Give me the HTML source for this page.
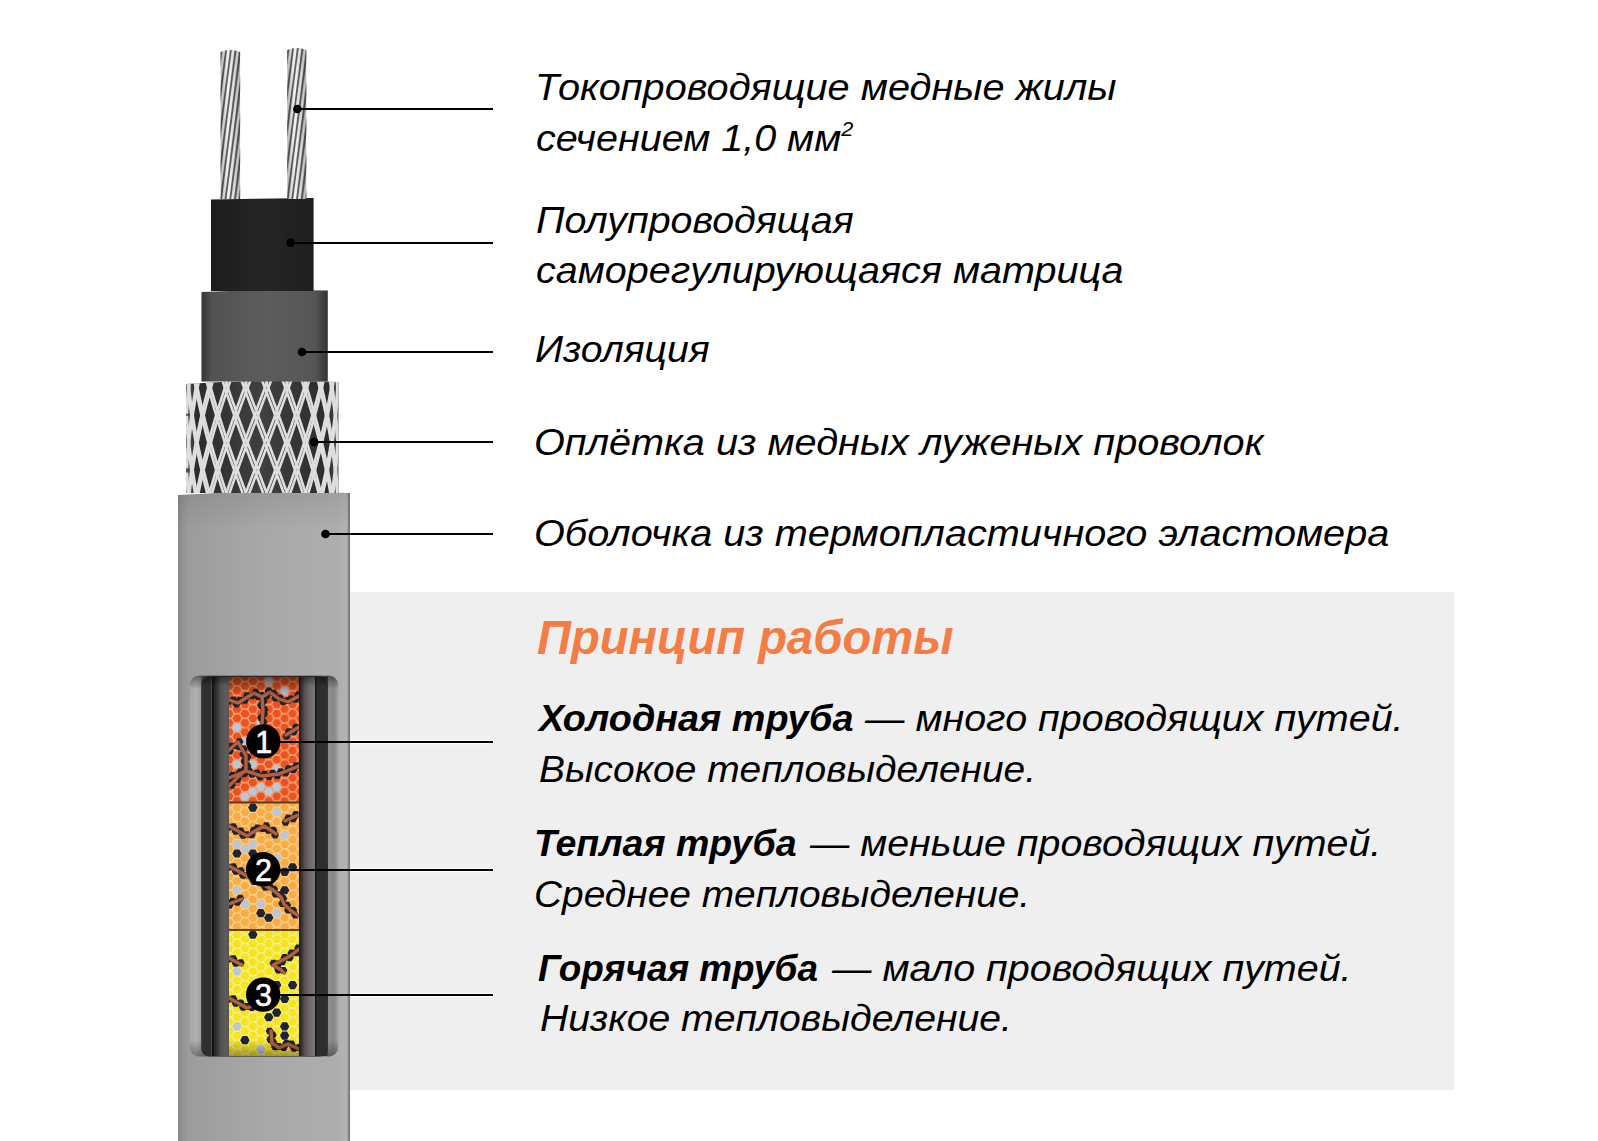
<!DOCTYPE html>
<html><head><meta charset="utf-8"><title>cable</title>
<style>
html,body{margin:0;padding:0;background:#fff}
body{width:1598px;height:1141px;overflow:hidden;position:relative}
.panel{position:absolute;left:350px;top:592px;width:1104px;height:498px;background:#efefef}
.t{position:absolute;font-family:"Liberation Sans",sans-serif;font-style:italic;line-height:1.117;white-space:nowrap;color:#000;transform-origin:0 0}
.t b{font-weight:bold}
.h{font-weight:bold;color:#f47c45}
.b{font-weight:bold}
.t sup{font-size:55%;vertical-align:0;position:relative;top:-0.70em}
</style></head><body>
<div class="panel"></div>
<svg width="1598" height="1141" viewBox="0 0 1598 1141" style="position:absolute;left:0;top:0">
<defs>
<linearGradient id="wireg" x1="0" y1="0" x2="1" y2="0"><stop offset="0" stop-color="#b8b8b8"/><stop offset=".35" stop-color="#f2f2f2"/><stop offset=".7" stop-color="#dcdcdc"/><stop offset="1" stop-color="#a8a8a8"/></linearGradient>
<linearGradient id="wireshade" x1="0" y1="0" x2="1" y2="0"><stop offset="0" stop-color="#000" stop-opacity=".15"/><stop offset=".4" stop-color="#000" stop-opacity="0"/><stop offset="1" stop-color="#000" stop-opacity=".12"/></linearGradient>
<linearGradient id="insg" x1="0" y1="0" x2="1" y2="0"><stop offset="0" stop-color="#343434"/><stop offset=".08" stop-color="#525252"/><stop offset=".5" stop-color="#5c5c5c"/><stop offset=".9" stop-color="#565656"/><stop offset="1" stop-color="#333"/></linearGradient>
<linearGradient id="matg" x1="0" y1="0" x2="1" y2="0"><stop offset="0" stop-color="#1c1c1c"/><stop offset=".5" stop-color="#252525"/><stop offset="1" stop-color="#1f1f1f"/></linearGradient>
<linearGradient id="jackg" x1="0" y1="0" x2="1" y2="0"><stop offset="0" stop-color="#888"/><stop offset=".03" stop-color="#949494"/><stop offset=".065" stop-color="#9c9c9c"/><stop offset=".5" stop-color="#a8a8a8"/><stop offset=".93" stop-color="#aeaeae"/><stop offset=".982" stop-color="#b4b4b4"/><stop offset=".994" stop-color="#7a7a7a"/><stop offset="1" stop-color="#777"/></linearGradient>
<linearGradient id="braidbg" x1="0" y1="0" x2="1" y2="0"><stop offset="0" stop-color="#555"/><stop offset=".07" stop-color="#2c2c2c"/><stop offset=".5" stop-color="#404040"/><stop offset=".93" stop-color="#2c2c2c"/><stop offset="1" stop-color="#555"/></linearGradient>
<clipPath id="braidclip"><path d="M186,384 Q262,379 338.5,382 L338.5,493 L186,493 Z"/></clipPath>
<linearGradient id="recessg" x1="0" y1="0" x2="0" y2="1"><stop offset="0" stop-color="#6e6e6e"/><stop offset=".06" stop-color="#a2a2a2"/><stop offset=".9" stop-color="#acacac"/><stop offset="1" stop-color="#8a8a8a"/></linearGradient>
<linearGradient id="chL" x1="0" y1="0" x2="1" y2="0"><stop offset="0" stop-color="#151515"/><stop offset=".2" stop-color="#1c1c1c"/><stop offset=".6" stop-color="#5a5858"/><stop offset="1" stop-color="#484848"/></linearGradient>
<linearGradient id="chR" x1="0" y1="0" x2="1" y2="0"><stop offset="0" stop-color="#161616"/><stop offset=".3" stop-color="#5e5c5c"/><stop offset=".7" stop-color="#666"/><stop offset="1" stop-color="#4a4a4a"/></linearGradient>
<linearGradient id="wallL" x1="0" y1="0" x2="1" y2="0"><stop offset="0" stop-color="#b8b8b8"/><stop offset="1" stop-color="#8a8a8a"/></linearGradient>
<linearGradient id="wallR" x1="0" y1="0" x2="1" y2="0"><stop offset="0" stop-color="#6a6a6a"/><stop offset="1" stop-color="#a6a6a6"/></linearGradient>
</defs>
<!-- outer jacket -->
<path d="M178,495 Q264,490 350,493 L350,1141 L178,1141 Z" fill="url(#jackg)"/>
<linearGradient id="jtop" x1="0" y1="0" x2="0" y2="1"><stop offset="0" stop-color="#000" stop-opacity=".09"/><stop offset="1" stop-color="#000" stop-opacity="0"/></linearGradient>
<path d="M178,495 Q264,490 350,493 L350,530 L178,530 Z" fill="url(#jtop)"/>
<!-- braid -->
<g clip-path="url(#braidclip)">
<rect x="186" y="378" width="153" height="116" fill="url(#braidbg)"/>
<g stroke="#dedede" stroke-width="2.6" fill="none"><polyline points="261.11,378 261.91,380.1 262.71,382.2 263.5,384.3 264.3,386.4 265.1,388.5 265.9,390.6 266.69,392.7 267.49,394.8 268.29,396.9 269.08,399 269.88,401.1 270.67,403.2 271.46,405.3 272.25,407.4 273.04,409.5 273.83,411.6 274.62,413.7 275.41,415.8 276.19,417.9 276.98,420 277.76,422.1 278.54,424.2 279.32,426.3 280.09,428.4 280.87,430.5 281.64,432.6 282.41,434.7 283.18,436.8 283.95,438.9 284.71,441 285.47,443.1 286.23,445.2 286.99,447.3 287.74,449.4 288.49,451.5 289.24,453.6 289.98,455.7 290.73,457.8 291.47,459.9 292.2,462 292.93,464.1 293.66,466.2 294.39,468.3 295.11,470.4 295.83,472.5 296.54,474.6 297.25,476.7 297.96,478.8 298.66,480.9 299.36,483 300.06,485.1 300.75,487.2 301.43,489.3 302.12,491.4 302.8,493.5 303.47,495.6 304.14,497.7 304.8,499.8 305.46,501.9"/><polyline points="264.62,378 265.41,380.1 266.21,382.2 267.01,384.3 267.8,386.4 268.6,388.5 269.4,390.6 270.19,392.7 270.98,394.8 271.77,396.9 272.57,399 273.36,401.1 274.14,403.2 274.93,405.3 275.72,407.4 276.5,409.5 277.29,411.6 278.07,413.7 278.85,415.8 279.63,417.9 280.4,420 281.18,422.1 281.95,424.2 282.72,426.3 283.48,428.4 284.25,430.5 285.01,432.6 285.77,434.7 286.53,436.8 287.29,438.9 288.04,441 288.79,443.1 289.53,445.2 290.28,447.3 291.02,449.4 291.76,451.5 292.49,453.6 293.22,455.7 293.95,457.8 294.67,459.9 295.39,462 296.11,464.1 296.82,466.2 297.53,468.3 298.24,470.4 298.94,472.5 299.64,474.6 300.33,476.7 301.02,478.8 301.71,480.9 302.39,483 303.06,485.1 303.73,487.2 304.4,489.3 305.06,491.4 305.72,493.5 306.38,495.6 307.02,497.7 307.67,499.8 308.31,501.9"/><polyline points="281.72,378 282.49,380.1 283.26,382.2 284.03,384.3 284.79,386.4 285.55,388.5 286.31,390.6 287.07,392.7 287.82,394.8 288.57,396.9 289.32,399 290.06,401.1 290.8,403.2 291.54,405.3 292.28,407.4 293.01,409.5 293.74,411.6 294.46,413.7 295.18,415.8 295.9,417.9 296.62,420 297.33,422.1 298.03,424.2 298.74,426.3 299.43,428.4 300.13,430.5 300.82,432.6 301.51,434.7 302.19,436.8 302.86,438.9 303.54,441 304.21,443.1 304.87,445.2 305.53,447.3 306.18,449.4 306.83,451.5 307.48,453.6 308.12,455.7 308.75,457.8 309.38,459.9 310.01,462 310.63,464.1 311.24,466.2 311.85,468.3 312.45,470.4 313.05,472.5 313.64,474.6 314.23,476.7 314.81,478.8 315.39,480.9 315.96,483 316.52,485.1 317.08,487.2 317.63,489.3 318.17,491.4 318.71,493.5 319.25,495.6 319.77,497.7 320.3,499.8 320.81,501.9"/><polyline points="285.09,378 285.85,380.1 286.61,382.2 287.36,384.3 288.12,386.4 288.87,388.5 289.61,390.6 290.35,392.7 291.1,394.8 291.83,396.9 292.57,399 293.3,401.1 294.02,403.2 294.75,405.3 295.47,407.4 296.18,409.5 296.9,411.6 297.61,413.7 298.31,415.8 299.01,417.9 299.71,420 300.4,422.1 301.09,424.2 301.78,426.3 302.46,428.4 303.13,430.5 303.8,432.6 304.47,434.7 305.13,436.8 305.79,438.9 306.44,441 307.09,443.1 307.73,445.2 308.37,447.3 309,449.4 309.63,451.5 310.25,453.6 310.87,455.7 311.48,457.8 312.09,459.9 312.69,462 313.29,464.1 313.88,466.2 314.46,468.3 315.04,470.4 315.61,472.5 316.18,474.6 316.74,476.7 317.3,478.8 317.85,480.9 318.39,483 318.93,485.1 319.46,487.2 319.98,489.3 320.5,491.4 321.01,493.5 321.52,495.6 322.02,497.7 322.51,499.8 322.99,501.9"/><polyline points="300.89,378 301.58,380.1 302.26,382.2 302.93,384.3 303.61,386.4 304.28,388.5 304.94,390.6 305.6,392.7 306.25,394.8 306.9,396.9 307.55,399 308.18,401.1 308.82,403.2 309.45,405.3 310.07,407.4 310.69,409.5 311.31,411.6 311.91,413.7 312.52,415.8 313.11,417.9 313.71,420 314.29,422.1 314.87,424.2 315.45,426.3 316.02,428.4 316.58,430.5 317.13,432.6 317.69,434.7 318.23,436.8 318.77,438.9 319.3,441 319.83,443.1 320.35,445.2 320.86,447.3 321.37,449.4 321.87,451.5 322.36,453.6 322.85,455.7 323.33,457.8 323.81,459.9 324.27,462 324.74,464.1 325.19,466.2 325.64,468.3 326.08,470.4 326.51,472.5 326.94,474.6 327.35,476.7 327.77,478.8 328.17,480.9 328.57,483 328.96,485.1 329.34,487.2 329.72,489.3 330.08,491.4 330.45,493.5 330.8,495.6 331.14,497.7 331.48,499.8 331.81,501.9"/><polyline points="303.87,378 304.54,380.1 305.2,382.2 305.86,384.3 306.51,386.4 307.16,388.5 307.8,390.6 308.44,392.7 309.07,394.8 309.7,396.9 310.32,399 310.93,401.1 311.55,403.2 312.15,405.3 312.75,407.4 313.35,409.5 313.94,411.6 314.52,413.7 315.1,415.8 315.67,417.9 316.24,420 316.8,422.1 317.35,424.2 317.9,426.3 318.44,428.4 318.98,430.5 319.51,432.6 320.03,434.7 320.55,436.8 321.06,438.9 321.57,441 322.07,443.1 322.56,445.2 323.04,447.3 323.52,449.4 323.99,451.5 324.46,453.6 324.92,455.7 325.37,457.8 325.81,459.9 326.25,462 326.68,464.1 327.1,466.2 327.52,468.3 327.93,470.4 328.33,472.5 328.72,474.6 329.11,476.7 329.49,478.8 329.86,480.9 330.23,483 330.59,485.1 330.94,487.2 331.28,489.3 331.61,491.4 331.94,493.5 332.26,495.6 332.57,497.7 332.88,499.8 333.18,501.9"/><polyline points="317.19,378 317.74,380.1 318.29,382.2 318.82,384.3 319.36,386.4 319.88,388.5 320.4,390.6 320.91,392.7 321.42,394.8 321.92,396.9 322.41,399 322.9,401.1 323.38,403.2 323.86,405.3 324.32,407.4 324.78,409.5 325.24,411.6 325.68,413.7 326.12,415.8 326.55,417.9 326.98,420 327.4,422.1 327.81,424.2 328.21,426.3 328.61,428.4 329,430.5 329.38,432.6 329.76,434.7 330.12,436.8 330.48,438.9 330.83,441 331.18,443.1 331.52,445.2 331.85,447.3 332.17,449.4 332.48,451.5 332.79,453.6 333.09,455.7 333.38,457.8 333.66,459.9 333.94,462 334.21,464.1 334.47,466.2 334.72,468.3 334.96,470.4 335.2,472.5 335.43,474.6 335.65,476.7 335.86,478.8 336.07,480.9 336.26,483 336.45,485.1 336.63,487.2 336.8,489.3 336.96,491.4 337.12,493.5 337.27,495.6 337.41,497.7 337.54,499.8"/><polyline points="319.57,378 320.09,380.1 320.61,382.2 321.12,384.3 321.62,386.4 322.12,388.5 322.61,390.6 323.09,392.7 323.57,394.8 324.04,396.9 324.5,399 324.96,401.1 325.41,403.2 325.86,405.3 326.29,407.4 326.72,409.5 327.15,411.6 327.56,413.7 327.97,415.8 328.37,417.9 328.76,420 329.15,422.1 329.53,424.2 329.9,426.3 330.27,428.4 330.62,430.5 330.97,432.6 331.31,434.7 331.65,436.8 331.98,438.9 332.29,441 332.61,443.1 332.91,445.2 333.21,447.3 333.49,449.4 333.77,451.5 334.05,453.6 334.31,455.7 334.57,457.8 334.82,459.9 335.06,462 335.29,464.1 335.52,466.2 335.73,468.3 335.94,470.4 336.14,472.5 336.34,474.6 336.52,476.7 336.7,478.8 336.87,480.9 337.03,483 337.18,485.1 337.32,487.2 337.46,489.3 337.59,491.4"/><polyline points="329.42,378 329.79,380.1 330.16,382.2 330.52,384.3 330.87,386.4 331.21,388.5 331.55,390.6 331.88,392.7 332.2,394.8 332.52,396.9 332.82,399 333.12,401.1 333.41,403.2 333.69,405.3 333.97,407.4 334.24,409.5 334.49,411.6 334.75,413.7 334.99,415.8 335.22,417.9 335.45,420 335.67,422.1 335.88,424.2 336.09,426.3 336.28,428.4 336.47,430.5 336.65,432.6 336.82,434.7 336.98,436.8 337.13,438.9 337.28,441 337.42,443.1 337.55,445.2"/><polyline points="331.01,378 331.35,380.1 331.68,382.2 332.01,384.3 332.33,386.4 332.64,388.5 332.94,390.6 333.24,392.7 333.52,394.8 333.8,396.9 334.07,399 334.34,401.1 334.59,403.2 334.84,405.3 335.08,407.4 335.32,409.5 335.54,411.6 335.76,413.7 335.96,415.8 336.16,417.9 336.36,420 336.54,422.1 336.72,424.2 336.88,426.3 337.04,428.4 337.19,430.5 337.34,432.6 337.47,434.7 337.6,436.8"/><polyline points="336.66,378 336.83,380.1 337,382.2 337.15,384.3 337.3,386.4 337.43,388.5 337.56,390.6"/><polyline points="337.35,378 337.48,380.1 337.61,382.2"/><polyline points="186.93,480.9 187.06,483 187.2,485.1 187.34,487.2 187.49,489.3 187.65,491.4 187.82,493.5 188,495.6 188.19,497.7 188.38,499.8 188.58,501.9"/><polyline points="186.98,472.5 187.11,474.6 187.25,476.7 187.4,478.8 187.56,480.9 187.72,483 187.89,485.1 188.07,487.2 188.26,489.3 188.46,491.4 188.67,493.5 188.88,495.6 189.1,497.7 189.33,499.8 189.57,501.9"/><polyline points="186.94,426.3 187.07,428.4 187.21,430.5 187.36,432.6 187.51,434.7 187.67,436.8 187.84,438.9 188.02,441 188.21,443.1 188.4,445.2 188.6,447.3 188.82,449.4 189.03,451.5 189.26,453.6 189.5,455.7 189.74,457.8 189.99,459.9 190.25,462 190.51,464.1 190.79,466.2 191.07,468.3 191.36,470.4 191.66,472.5 191.96,474.6 192.28,476.7 192.6,478.8 192.93,480.9 193.26,483 193.61,485.1 193.96,487.2 194.32,489.3 194.68,491.4 195.06,493.5 195.44,495.6 195.83,497.7 196.22,499.8 196.62,501.9"/><polyline points="186.87,415.8 186.99,417.9 187.13,420 187.27,422.1 187.42,424.2 187.57,426.3 187.74,428.4 187.91,430.5 188.09,432.6 188.28,434.7 188.48,436.8 188.69,438.9 188.9,441 189.12,443.1 189.35,445.2 189.59,447.3 189.84,449.4 190.09,451.5 190.35,453.6 190.62,455.7 190.9,457.8 191.19,459.9 191.48,462 191.78,464.1 192.09,466.2 192.4,468.3 192.73,470.4 193.06,472.5 193.4,474.6 193.75,476.7 194.1,478.8 194.46,480.9 194.83,483 195.21,485.1 195.59,487.2 195.98,489.3 196.38,491.4 196.79,493.5 197.2,495.6 197.62,497.7 198.05,499.8 198.48,501.9"/><polyline points="187.37,378 187.53,380.1 187.69,382.2 187.86,384.3 188.04,386.4 188.23,388.5 188.42,390.6 188.63,392.7 188.84,394.8 189.06,396.9 189.28,399 189.52,401.1 189.76,403.2 190.02,405.3 190.28,407.4 190.54,409.5 190.82,411.6 191.1,413.7 191.39,415.8 191.69,417.9 192,420 192.31,422.1 192.63,424.2 192.96,426.3 193.3,428.4 193.64,430.5 194,432.6 194.35,434.7 194.72,436.8 195.1,438.9 195.48,441 195.87,443.1 196.26,445.2 196.67,447.3 197.08,449.4 197.49,451.5 197.92,453.6 198.35,455.7 198.79,457.8 199.24,459.9 199.69,462 200.15,464.1 200.61,466.2 201.09,468.3 201.57,470.4 202.05,472.5 202.55,474.6 203.05,476.7 203.55,478.8 204.07,480.9 204.58,483 205.11,485.1 205.64,487.2 206.18,489.3 206.72,491.4 207.27,493.5 207.83,495.6 208.39,497.7 208.96,499.8 209.53,501.9"/><polyline points="188.11,378 188.3,380.1 188.5,382.2 188.71,384.3 188.92,386.4 189.15,388.5 189.38,390.6 189.62,392.7 189.86,394.8 190.12,396.9 190.38,399 190.65,401.1 190.93,403.2 191.21,405.3 191.51,407.4 191.81,409.5 192.12,411.6 192.44,413.7 192.76,415.8 193.09,417.9 193.43,420 193.78,422.1 194.14,424.2 194.5,426.3 194.87,428.4 195.25,430.5 195.63,432.6 196.02,434.7 196.42,436.8 196.83,438.9 197.24,441 197.66,443.1 198.09,445.2 198.52,447.3 198.97,449.4 199.41,451.5 199.87,453.6 200.33,455.7 200.8,457.8 201.28,459.9 201.76,462 202.25,464.1 202.74,466.2 203.25,468.3 203.76,470.4 204.27,472.5 204.79,474.6 205.32,476.7 205.85,478.8 206.39,480.9 206.94,483 207.49,485.1 208.05,487.2 208.61,489.3 209.19,491.4 209.76,493.5 210.34,495.6 210.93,497.7 211.52,499.8 212.12,501.9"/><polyline points="194.03,378 194.39,380.1 194.76,382.2 195.13,384.3 195.52,386.4 195.91,388.5 196.3,390.6 196.71,392.7 197.12,394.8 197.54,396.9 197.96,399 198.4,401.1 198.84,403.2 199.28,405.3 199.74,407.4 200.2,409.5 200.66,411.6 201.14,413.7 201.62,415.8 202.11,417.9 202.6,420 203.1,422.1 203.61,424.2 204.12,426.3 204.64,428.4 205.16,430.5 205.7,432.6 206.24,434.7 206.78,436.8 207.33,438.9 207.89,441 208.45,443.1 209.02,445.2 209.59,447.3 210.17,449.4 210.76,451.5 211.35,453.6 211.95,455.7 212.55,457.8 213.16,459.9 213.77,462 214.39,464.1 215.01,466.2 215.64,468.3 216.28,470.4 216.91,472.5 217.56,474.6 218.21,476.7 218.86,478.8 219.52,480.9 220.18,483 220.85,485.1 221.52,487.2 222.2,489.3 222.88,491.4 223.57,493.5 224.26,495.6 224.95,497.7 225.65,499.8 226.35,501.9"/><polyline points="195.67,378 196.06,380.1 196.46,382.2 196.87,384.3 197.28,386.4 197.71,388.5 198.13,390.6 198.57,392.7 199.01,394.8 199.46,396.9 199.92,399 200.38,401.1 200.85,403.2 201.33,405.3 201.81,407.4 202.3,409.5 202.8,411.6 203.3,413.7 203.81,415.8 204.32,417.9 204.85,420 205.37,422.1 205.91,424.2 206.45,426.3 207,428.4 207.55,430.5 208.11,432.6 208.67,434.7 209.24,436.8 209.82,438.9 210.4,441 210.99,443.1 211.58,445.2 212.18,447.3 212.79,449.4 213.4,451.5 214.01,453.6 214.63,455.7 215.26,457.8 215.89,459.9 216.53,462 217.17,464.1 217.81,466.2 218.47,468.3 219.12,470.4 219.78,472.5 220.45,474.6 221.12,476.7 221.79,478.8 222.47,480.9 223.15,483 223.84,485.1 224.53,487.2 225.23,489.3 225.93,491.4 226.63,493.5 227.34,495.6 228.05,497.7 228.76,499.8 229.48,501.9"/><polyline points="205.75,378 206.29,380.1 206.84,382.2 207.39,384.3 207.94,386.4 208.51,388.5 209.08,390.6 209.65,392.7 210.23,394.8 210.82,396.9 211.41,399 212.01,401.1 212.61,403.2 213.22,405.3 213.83,407.4 214.45,409.5 215.08,411.6 215.71,413.7 216.34,415.8 216.98,417.9 217.62,420 218.27,422.1 218.93,424.2 219.59,426.3 220.25,428.4 220.92,430.5 221.59,432.6 222.27,434.7 222.95,436.8 223.64,438.9 224.33,441 225.02,443.1 225.72,445.2 226.42,447.3 227.13,449.4 227.84,451.5 228.55,453.6 229.27,455.7 229.99,457.8 230.72,459.9 231.45,462 232.18,464.1 232.91,466.2 233.65,468.3 234.39,470.4 235.14,472.5 235.88,474.6 236.63,476.7 237.39,478.8 238.14,480.9 238.9,483 239.66,485.1 240.43,487.2 241.19,489.3 241.96,491.4 242.73,493.5 243.5,495.6 244.28,497.7 245.05,499.8 245.83,501.9"/><polyline points="208.17,378 208.73,380.1 209.3,382.2 209.88,384.3 210.46,386.4 211.05,388.5 211.65,390.6 212.25,392.7 212.85,394.8 213.46,396.9 214.08,399 214.7,401.1 215.32,403.2 215.96,405.3 216.59,407.4 217.23,409.5 217.88,411.6 218.53,413.7 219.19,415.8 219.85,417.9 220.52,420 221.19,422.1 221.86,424.2 222.54,426.3 223.22,428.4 223.91,430.5 224.6,432.6 225.3,434.7 226,436.8 226.7,438.9 227.41,441 228.12,443.1 228.84,445.2 229.56,447.3 230.28,449.4 231.01,451.5 231.73,453.6 232.47,455.7 233.2,457.8 233.94,459.9 234.69,462 235.43,464.1 236.18,466.2 236.93,468.3 237.69,470.4 238.44,472.5 239.2,474.6 239.96,476.7 240.73,478.8 241.49,480.9 242.26,483 243.03,485.1 243.81,487.2 244.58,489.3 245.36,491.4 246.14,493.5 246.92,495.6 247.7,497.7 248.49,499.8 249.27,501.9"/><polyline points="221.66,378 222.34,380.1 223.02,382.2 223.71,384.3 224.4,386.4 225.09,388.5 225.79,390.6 226.5,392.7 227.2,394.8 227.91,396.9 228.63,399 229.35,401.1 230.07,403.2 230.79,405.3 231.52,407.4 232.25,409.5 232.99,411.6 233.73,413.7 234.47,415.8 235.21,417.9 235.96,420 236.71,422.1 237.46,424.2 238.22,426.3 238.98,428.4 239.74,430.5 240.5,432.6 241.27,434.7 242.04,436.8 242.81,438.9 243.58,441 244.36,443.1 245.13,445.2 245.91,447.3 246.69,449.4 247.47,451.5 248.26,453.6 249.04,455.7 249.83,457.8 250.62,459.9 251.41,462 252.2,464.1 252.99,466.2 253.78,468.3 254.57,470.4 255.37,472.5 256.16,474.6 256.96,476.7 257.76,478.8 258.55,480.9 259.35,483 260.15,485.1 260.95,487.2 261.74,489.3 262.54,491.4 263.34,493.5 264.14,495.6 264.94,497.7 265.73,499.8 266.53,501.9"/><polyline points="224.67,378 225.37,380.1 226.07,382.2 226.77,384.3 227.48,386.4 228.2,388.5 228.91,390.6 229.63,392.7 230.35,394.8 231.08,396.9 231.81,399 232.54,401.1 233.28,403.2 234.02,405.3 234.76,407.4 235.51,409.5 236.26,411.6 237.01,413.7 237.76,415.8 238.52,417.9 239.28,420 240.04,422.1 240.81,424.2 241.57,426.3 242.34,428.4 243.11,430.5 243.89,432.6 244.66,434.7 245.44,436.8 246.22,438.9 247,441 247.78,443.1 248.57,445.2 249.35,447.3 250.14,449.4 250.93,451.5 251.72,453.6 252.51,455.7 253.3,457.8 254.09,459.9 254.89,462 255.68,464.1 256.48,466.2 257.27,468.3 258.07,470.4 258.87,472.5 259.67,474.6 260.46,476.7 261.26,478.8 262.06,480.9 262.86,483 263.66,485.1 264.45,487.2 265.25,489.3 266.05,491.4 266.84,493.5 267.64,495.6 268.44,497.7 269.23,499.8 270.03,501.9"/><polyline points="240.58,378 241.35,380.1 242.12,382.2 242.89,384.3 243.66,386.4 244.44,388.5 245.21,390.6 245.99,392.7 246.77,394.8 247.55,396.9 248.34,399 249.12,401.1 249.91,403.2 250.7,405.3 251.49,407.4 252.28,409.5 253.07,411.6 253.86,413.7 254.66,415.8 255.45,417.9 256.25,420 257.04,422.1 257.84,424.2 258.64,426.3 259.43,428.4 260.23,430.5 261.03,432.6 261.83,434.7 262.62,436.8 263.42,438.9 264.22,441 265.02,443.1 265.81,445.2 266.61,447.3 267.41,449.4 268.2,451.5 269,453.6 269.79,455.7 270.59,457.8 271.38,459.9 272.17,462 272.96,464.1 273.75,466.2 274.54,468.3 275.33,470.4 276.11,472.5 276.9,474.6 277.68,476.7 278.46,478.8 279.24,480.9 280.02,483 280.79,485.1 281.56,487.2 282.33,489.3 283.1,491.4 283.87,493.5 284.63,495.6 285.39,497.7 286.15,499.8 286.91,501.9"/><polyline points="243.97,378 244.74,380.1 245.52,382.2 246.3,384.3 247.08,386.4 247.86,388.5 248.65,390.6 249.43,392.7 250.22,394.8 251.01,396.9 251.8,399 252.59,401.1 253.38,403.2 254.18,405.3 254.97,407.4 255.77,409.5 256.56,411.6 257.36,413.7 258.15,415.8 258.95,417.9 259.75,420 260.55,422.1 261.34,424.2 262.14,426.3 262.94,428.4 263.74,430.5 264.54,432.6 265.33,434.7 266.13,436.8 266.93,438.9 267.72,441 268.52,443.1 269.31,445.2 270.11,447.3 270.9,449.4 271.69,451.5 272.48,453.6 273.27,455.7 274.06,457.8 274.85,459.9 275.64,462 276.42,464.1 277.21,466.2 277.99,468.3 278.77,470.4 279.55,472.5 280.32,474.6 281.1,476.7 281.87,478.8 282.64,480.9 283.41,483 284.17,485.1 284.93,487.2 285.7,489.3 286.45,491.4 287.21,493.5 287.96,495.6 288.71,497.7 289.46,499.8 290.2,501.9"/><polyline points="268.59,378 267.79,380.1 267,382.2 266.2,384.3 265.4,386.4 264.61,388.5 263.81,390.6 263.01,392.7 262.21,394.8 261.42,396.9 260.62,399 259.82,401.1 259.02,403.2 258.23,405.3 257.43,407.4 256.63,409.5 255.84,411.6 255.04,413.7 254.25,415.8 253.46,417.9 252.66,420 251.87,422.1 251.08,424.2 250.29,426.3 249.51,428.4 248.72,430.5 247.93,432.6 247.15,434.7 246.37,436.8 245.59,438.9 244.81,441 244.04,443.1 243.26,445.2 242.49,447.3 241.72,449.4 240.95,451.5 240.19,453.6 239.43,455.7 238.67,457.8 237.91,459.9 237.15,462 236.4,464.1 235.65,466.2 234.91,468.3 234.16,470.4 233.42,472.5 232.69,474.6 231.95,476.7 231.22,478.8 230.49,480.9 229.77,483 229.05,485.1 228.33,487.2 227.62,489.3 226.91,491.4 226.21,493.5 225.5,495.6 224.81,497.7 224.11,499.8 223.43,501.9"/><polyline points="272.08,378 271.29,380.1 270.49,382.2 269.7,384.3 268.9,386.4 268.11,388.5 267.31,390.6 266.52,392.7 265.72,394.8 264.92,396.9 264.12,399 263.33,401.1 262.53,403.2 261.73,405.3 260.93,407.4 260.14,409.5 259.34,411.6 258.54,413.7 257.74,415.8 256.95,417.9 256.15,420 255.36,422.1 254.56,424.2 253.77,426.3 252.98,428.4 252.18,430.5 251.39,432.6 250.6,434.7 249.82,436.8 249.03,438.9 248.24,441 247.46,443.1 246.68,445.2 245.9,447.3 245.12,449.4 244.34,451.5 243.57,453.6 242.8,455.7 242.03,457.8 241.26,459.9 240.49,462 239.73,464.1 238.97,466.2 238.21,468.3 237.45,470.4 236.7,472.5 235.95,474.6 235.2,476.7 234.46,478.8 233.71,480.9 232.98,483 232.24,485.1 231.51,487.2 230.78,489.3 230.06,491.4 229.33,493.5 228.62,495.6 227.9,497.7 227.19,499.8 226.48,501.9"/><polyline points="288.86,378 288.11,380.1 287.35,382.2 286.6,384.3 285.84,386.4 285.08,388.5 284.32,390.6 283.55,392.7 282.79,394.8 282.02,396.9 281.25,399 280.47,401.1 279.7,403.2 278.92,405.3 278.14,407.4 277.36,409.5 276.57,411.6 275.79,413.7 275,415.8 274.22,417.9 273.43,420 272.64,422.1 271.85,424.2 271.05,426.3 270.26,428.4 269.47,430.5 268.67,432.6 267.88,434.7 267.08,436.8 266.28,438.9 265.49,441 264.69,443.1 263.89,445.2 263.09,447.3 262.3,449.4 261.5,451.5 260.7,453.6 259.9,455.7 259.1,457.8 258.31,459.9 257.51,462 256.71,464.1 255.92,466.2 255.12,468.3 254.33,470.4 253.54,472.5 252.74,474.6 251.95,476.7 251.16,478.8 250.37,480.9 249.59,483 248.8,485.1 248.02,487.2 247.23,489.3 246.45,491.4 245.67,493.5 244.89,495.6 244.12,497.7 243.34,499.8 242.57,501.9"/><polyline points="292.11,378 291.38,380.1 290.64,382.2 289.9,384.3 289.15,386.4 288.4,388.5 287.65,390.6 286.9,392.7 286.14,394.8 285.38,396.9 284.62,399 283.86,401.1 283.09,403.2 282.32,405.3 281.55,407.4 280.78,409.5 280,411.6 279.23,413.7 278.45,415.8 277.67,417.9 276.88,420 276.1,422.1 275.31,424.2 274.53,426.3 273.74,428.4 272.95,430.5 272.16,432.6 271.37,434.7 270.57,436.8 269.78,438.9 268.99,441 268.19,443.1 267.4,445.2 266.6,447.3 265.8,449.4 265,451.5 264.21,453.6 263.41,455.7 262.61,457.8 261.81,459.9 261.02,462 260.22,464.1 259.42,466.2 258.62,468.3 257.83,470.4 257.03,472.5 256.23,474.6 255.44,476.7 254.64,478.8 253.85,480.9 253.06,483 252.27,485.1 251.48,487.2 250.69,489.3 249.9,491.4 249.11,493.5 248.33,495.6 247.54,497.7 246.76,499.8 245.98,501.9"/><polyline points="307.15,378 306.5,380.1 305.85,382.2 305.19,384.3 304.53,386.4 303.86,388.5 303.19,390.6 302.52,392.7 301.84,394.8 301.15,396.9 300.46,399 299.77,401.1 299.08,403.2 298.37,405.3 297.67,407.4 296.96,409.5 296.25,411.6 295.53,413.7 294.81,415.8 294.09,417.9 293.36,420 292.63,422.1 291.9,424.2 291.16,426.3 290.42,428.4 289.68,430.5 288.93,432.6 288.18,434.7 287.43,436.8 286.68,438.9 285.92,441 285.16,443.1 284.4,445.2 283.63,447.3 282.87,449.4 282.1,451.5 281.33,453.6 280.55,455.7 279.78,457.8 279,459.9 278.22,462 277.44,464.1 276.65,466.2 275.87,468.3 275.08,470.4 274.3,472.5 273.51,474.6 272.72,476.7 271.93,478.8 271.14,480.9 270.34,483 269.55,485.1 268.75,487.2 267.96,489.3 267.16,491.4 266.37,493.5 265.57,495.6 264.77,497.7 263.97,499.8 263.18,501.9"/><polyline points="309.93,378 309.31,380.1 308.68,382.2 308.04,384.3 307.4,386.4 306.76,388.5 306.11,390.6 305.45,392.7 304.79,394.8 304.13,396.9 303.46,399 302.78,401.1 302.11,403.2 301.42,405.3 300.74,407.4 300.05,409.5 299.35,411.6 298.65,413.7 297.95,415.8 297.24,417.9 296.53,420 295.82,422.1 295.1,424.2 294.38,426.3 293.65,428.4 292.92,430.5 292.19,432.6 291.45,434.7 290.71,436.8 289.97,438.9 289.23,441 288.48,443.1 287.73,445.2 286.98,447.3 286.22,449.4 285.46,451.5 284.7,453.6 283.94,455.7 283.17,457.8 282.4,459.9 281.63,462 280.86,464.1 280.08,466.2 279.31,468.3 278.53,470.4 277.75,472.5 276.96,474.6 276.18,476.7 275.4,478.8 274.61,480.9 273.82,483 273.03,485.1 272.24,487.2 271.45,489.3 270.66,491.4 269.86,493.5 269.07,495.6 268.27,497.7 267.48,499.8 266.68,501.9"/><polyline points="322.11,378 321.61,380.1 321.11,382.2 320.6,384.3 320.08,386.4 319.56,388.5 319.03,390.6 318.49,392.7 317.95,394.8 317.4,396.9 316.85,399 316.29,401.1 315.72,403.2 315.15,405.3 314.57,407.4 313.99,409.5 313.4,411.6 312.81,413.7 312.21,415.8 311.6,417.9 310.99,420 310.37,422.1 309.75,424.2 309.13,426.3 308.49,428.4 307.86,430.5 307.21,432.6 306.57,434.7 305.92,436.8 305.26,438.9 304.6,441 303.93,443.1 303.26,445.2 302.59,447.3 301.91,449.4 301.22,451.5 300.54,453.6 299.84,455.7 299.15,457.8 298.45,459.9 297.74,462 297.03,464.1 296.32,466.2 295.61,468.3 294.89,470.4 294.16,472.5 293.44,474.6 292.71,476.7 291.97,478.8 291.24,480.9 290.5,483 289.76,485.1 289.01,487.2 288.26,489.3 287.51,491.4 286.76,493.5 286,495.6 285.24,497.7 284.48,499.8 283.71,501.9"/><polyline points="324.22,378 323.75,380.1 323.28,382.2 322.79,384.3 322.31,386.4 321.81,388.5 321.31,390.6 320.8,392.7 320.29,394.8 319.77,396.9 319.24,399 318.71,401.1 318.17,403.2 317.62,405.3 317.07,407.4 316.51,409.5 315.95,411.6 315.38,413.7 314.8,415.8 314.22,417.9 313.64,420 313.04,422.1 312.44,424.2 311.84,426.3 311.23,428.4 310.62,430.5 310,432.6 309.37,434.7 308.74,436.8 308.11,438.9 307.47,441 306.82,443.1 306.17,445.2 305.52,447.3 304.86,449.4 304.2,451.5 303.53,453.6 302.85,455.7 302.18,457.8 301.49,459.9 300.81,462 300.12,464.1 299.42,466.2 298.72,468.3 298.02,470.4 297.31,472.5 296.6,474.6 295.89,476.7 295.17,478.8 294.45,480.9 293.73,483 293,485.1 292.26,487.2 291.53,489.3 290.79,491.4 290.05,493.5 289.3,495.6 288.56,497.7 287.81,499.8 287.05,501.9"/><polyline points="332.63,378 332.32,380.1 332,382.2 331.68,384.3 331.34,386.4 331,388.5 330.65,390.6 330.3,392.7 329.93,394.8 329.56,396.9 329.18,399 328.8,401.1 328.41,403.2 328.01,405.3 327.6,407.4 327.18,409.5 326.76,411.6 326.33,413.7 325.9,415.8 325.45,417.9 325,420 324.55,422.1 324.08,424.2 323.61,426.3 323.14,428.4 322.65,430.5 322.16,432.6 321.66,434.7 321.16,436.8 320.65,438.9 320.14,441 319.61,443.1 319.08,445.2 318.55,447.3 318.01,449.4 317.46,451.5 316.91,453.6 316.35,455.7 315.78,457.8 315.21,459.9 314.63,462 314.05,464.1 313.46,466.2 312.87,468.3 312.27,470.4 311.66,472.5 311.05,474.6 310.44,476.7 309.82,478.8 309.19,480.9 308.56,483 307.92,485.1 307.28,487.2 306.63,489.3 305.98,491.4 305.33,493.5 304.67,495.6 304,497.7 303.33,499.8 302.66,501.9"/><polyline points="333.91,378 333.63,380.1 333.35,382.2 333.05,384.3 332.75,386.4 332.45,388.5 332.13,390.6 331.81,392.7 331.48,394.8 331.14,396.9 330.79,399 330.44,401.1 330.08,403.2 329.71,405.3 329.34,407.4 328.95,409.5 328.56,411.6 328.16,413.7 327.76,415.8 327.35,417.9 326.93,420 326.5,422.1 326.07,424.2 325.63,426.3 325.18,428.4 324.73,430.5 324.27,432.6 323.8,434.7 323.33,436.8 322.84,438.9 322.36,441 321.86,443.1 321.36,445.2 320.85,447.3 320.34,449.4 319.82,451.5 319.29,453.6 318.76,455.7 318.22,457.8 317.68,459.9 317.13,462 316.57,464.1 316.01,466.2 315.44,468.3 314.86,470.4 314.28,472.5 313.7,474.6 313.1,476.7 312.51,478.8 311.9,480.9 311.3,483 310.68,485.1 310.06,487.2 309.44,489.3 308.81,491.4 308.17,493.5 307.54,495.6 306.89,497.7 306.24,499.8 305.59,501.9"/><polyline points="337.61,384.3 337.48,386.4 337.35,388.5 337.21,390.6 337.06,392.7 336.9,394.8 336.73,396.9 336.56,399 336.37,401.1 336.18,403.2 335.98,405.3 335.77,407.4 335.56,409.5 335.34,411.6 335.1,413.7 334.86,415.8 334.62,417.9 334.36,420 334.1,422.1 333.83,424.2 333.55,426.3 333.26,428.4 332.97,430.5 332.67,432.6 332.36,434.7 332.04,436.8 331.71,438.9 331.38,441 331.04,443.1 330.69,445.2 330.34,447.3 329.97,449.4 329.6,451.5 329.22,453.6 328.84,455.7 328.45,457.8 328.05,459.9 327.64,462 327.23,464.1 326.8,466.2 326.38,468.3 325.94,470.4 325.5,472.5 325.05,474.6 324.59,476.7 324.13,478.8 323.66,480.9 323.19,483 322.7,485.1 322.21,487.2 321.72,489.3 321.21,491.4 320.7,493.5 320.19,495.6 319.67,497.7 319.14,499.8 318.6,501.9"/><polyline points="337.53,394.8 337.4,396.9 337.26,399 337.12,401.1 336.96,403.2 336.8,405.3 336.63,407.4 336.45,409.5 336.26,411.6 336.06,413.7 335.86,415.8 335.65,417.9 335.43,420 335.2,422.1 334.96,424.2 334.72,426.3 334.46,428.4 334.2,430.5 333.94,432.6 333.66,434.7 333.38,436.8 333.08,438.9 332.79,441 332.48,443.1 332.16,445.2 331.84,447.3 331.51,449.4 331.17,451.5 330.83,453.6 330.48,455.7 330.12,457.8 329.75,459.9 329.37,462 328.99,464.1 328.6,466.2 328.21,468.3 327.8,470.4 327.39,472.5 326.97,474.6 326.55,476.7 326.11,478.8 325.67,480.9 325.23,483 324.78,485.1 324.31,487.2 323.85,489.3 323.37,491.4 322.89,493.5 322.41,495.6 321.91,497.7 321.41,499.8 320.91,501.9"/><polyline points="337.62,438.9 337.5,441 337.36,443.1 337.22,445.2 337.07,447.3 336.91,449.4 336.75,451.5 336.57,453.6 336.39,455.7 336.2,457.8 336,459.9 335.8,462 335.58,464.1 335.36,466.2 335.13,468.3 334.89,470.4 334.64,472.5 334.39,474.6 334.13,476.7 333.86,478.8 333.58,480.9 333.29,483 333,485.1 332.7,487.2 332.39,489.3 332.07,491.4 331.75,493.5 331.41,495.6 331.07,497.7 330.73,499.8 330.37,501.9"/><polyline points="337.55,449.4 337.42,451.5 337.28,453.6 337.13,455.7 336.98,457.8 336.82,459.9 336.64,462 336.47,464.1 336.28,466.2 336.08,468.3 335.88,470.4 335.67,472.5 335.45,474.6 335.22,476.7 334.99,478.8 334.74,480.9 334.49,483 334.23,485.1 333.96,487.2 333.69,489.3 333.41,491.4 333.12,493.5 332.82,495.6 332.51,497.7 332.2,499.8 331.88,501.9"/><polyline points="337.63,493.5 337.51,495.6 337.38,497.7 337.24,499.8 337.09,501.9"/><polyline points="189.14,378 188.92,380.1 188.71,382.2 188.5,384.3 188.3,386.4 188.11,388.5 187.93,390.6 187.75,392.7 187.59,394.8 187.43,396.9 187.28,399 187.14,401.1 187.01,403.2 186.88,405.3"/><polyline points="190.22,378 189.96,380.1 189.71,382.2 189.47,384.3 189.23,386.4 189.01,388.5 188.79,390.6 188.58,392.7 188.38,394.8 188.18,396.9 188,399 187.82,401.1 187.65,403.2 187.49,405.3 187.34,407.4 187.19,409.5 187.06,411.6 186.93,413.7"/><polyline points="197.7,378 197.28,380.1 196.86,382.2 196.46,384.3 196.06,386.4 195.67,388.5 195.28,390.6 194.9,392.7 194.53,394.8 194.17,396.9 193.81,399 193.47,401.1 193.12,403.2 192.79,405.3 192.47,407.4 192.15,409.5 191.84,411.6 191.54,413.7 191.24,415.8 190.95,417.9 190.68,420 190.4,422.1 190.14,424.2 189.89,426.3 189.64,428.4 189.4,430.5 189.17,432.6 188.94,434.7 188.73,436.8 188.52,438.9 188.32,441 188.13,443.1 187.95,445.2 187.77,447.3 187.6,449.4 187.45,451.5 187.29,453.6 187.15,455.7 187.02,457.8 186.89,459.9"/><polyline points="199.63,378 199.18,380.1 198.74,382.2 198.3,384.3 197.87,386.4 197.44,388.5 197.03,390.6 196.62,392.7 196.22,394.8 195.82,396.9 195.43,399 195.05,401.1 194.68,403.2 194.31,405.3 193.95,407.4 193.6,409.5 193.26,411.6 192.92,413.7 192.59,415.8 192.27,417.9 191.96,420 191.65,422.1 191.36,424.2 191.07,426.3 190.78,428.4 190.51,430.5 190.24,432.6 189.99,434.7 189.73,436.8 189.49,438.9 189.26,441 189.03,443.1 188.81,445.2 188.6,447.3 188.4,449.4 188.2,451.5 188.02,453.6 187.84,455.7 187.67,457.8 187.51,459.9 187.35,462 187.21,464.1 187.07,466.2 186.94,468.3"/><polyline points="211.04,378 210.46,380.1 209.87,382.2 209.3,384.3 208.72,386.4 208.16,388.5 207.6,390.6 207.05,392.7 206.5,394.8 205.96,396.9 205.42,399 204.89,401.1 204.37,403.2 203.85,405.3 203.34,407.4 202.84,409.5 202.34,411.6 201.85,413.7 201.37,415.8 200.89,417.9 200.42,420 199.96,422.1 199.5,424.2 199.05,426.3 198.61,428.4 198.17,430.5 197.74,432.6 197.32,434.7 196.91,436.8 196.5,438.9 196.1,441 195.71,443.1 195.32,445.2 194.94,447.3 194.57,449.4 194.21,451.5 193.85,453.6 193.5,455.7 193.16,457.8 192.83,459.9 192.5,462 192.18,464.1 191.87,466.2 191.57,468.3 191.27,470.4 190.98,472.5 190.7,474.6 190.43,476.7 190.17,478.8 189.91,480.9 189.66,483 189.42,485.1 189.19,487.2 188.97,489.3 188.75,491.4 188.54,493.5 188.34,495.6 188.15,497.7 187.96,499.8 187.79,501.9"/><polyline points="213.7,378 213.08,380.1 212.48,382.2 211.87,384.3 211.28,386.4 210.69,388.5 210.1,390.6 209.52,392.7 208.95,394.8 208.38,396.9 207.82,399 207.26,401.1 206.71,403.2 206.17,405.3 205.63,407.4 205.1,409.5 204.58,411.6 204.06,413.7 203.55,415.8 203.04,417.9 202.54,420 202.05,422.1 201.56,424.2 201.08,426.3 200.61,428.4 200.14,430.5 199.68,432.6 199.23,434.7 198.78,436.8 198.34,438.9 197.91,441 197.49,443.1 197.07,445.2 196.66,447.3 196.26,449.4 195.86,451.5 195.47,453.6 195.09,455.7 194.72,457.8 194.35,459.9 193.99,462 193.64,464.1 193.29,466.2 192.96,468.3 192.63,470.4 192.31,472.5 191.99,474.6 191.69,476.7 191.39,478.8 191.1,480.9 190.81,483 190.54,485.1 190.27,487.2 190.01,489.3 189.76,491.4 189.52,493.5 189.28,495.6 189.05,497.7 188.83,499.8 188.62,501.9"/><polyline points="228.19,378 227.47,380.1 226.77,382.2 226.06,384.3 225.36,386.4 224.66,388.5 223.97,390.6 223.28,392.7 222.6,394.8 221.92,396.9 221.25,399 220.58,401.1 219.91,403.2 219.25,405.3 218.59,407.4 217.94,409.5 217.29,411.6 216.65,413.7 216.01,415.8 215.38,417.9 214.75,420 214.13,422.1 213.52,424.2 212.91,426.3 212.3,428.4 211.7,430.5 211.11,432.6 210.52,434.7 209.93,436.8 209.36,438.9 208.78,441 208.22,443.1 207.66,445.2 207.1,447.3 206.55,449.4 206.01,451.5 205.48,453.6 204.95,455.7 204.42,457.8 203.91,459.9 203.4,462 202.89,464.1 202.39,466.2 201.9,468.3 201.42,470.4 200.94,472.5 200.47,474.6 200.01,476.7 199.55,478.8 199.1,480.9 198.65,483 198.22,485.1 197.79,487.2 197.36,489.3 196.95,491.4 196.54,493.5 196.14,495.6 195.75,497.7 195.36,499.8 194.98,501.9"/><polyline points="231.36,378 230.63,380.1 229.91,382.2 229.19,384.3 228.47,386.4 227.76,388.5 227.05,390.6 226.34,392.7 225.64,394.8 224.94,396.9 224.25,399 223.56,401.1 222.87,403.2 222.19,405.3 221.51,407.4 220.84,409.5 220.17,411.6 219.51,413.7 218.85,415.8 218.2,417.9 217.55,420 216.9,422.1 216.26,424.2 215.63,426.3 215,428.4 214.38,430.5 213.76,432.6 213.15,434.7 212.54,436.8 211.94,438.9 211.34,441 210.75,443.1 210.16,445.2 209.58,447.3 209.01,449.4 208.44,451.5 207.88,453.6 207.32,455.7 206.77,457.8 206.23,459.9 205.69,462 205.16,464.1 204.63,466.2 204.11,468.3 203.6,470.4 203.09,472.5 202.59,474.6 202.1,476.7 201.61,478.8 201.13,480.9 200.66,483 200.19,485.1 199.73,487.2 199.28,489.3 198.83,491.4 198.39,493.5 197.96,495.6 197.53,497.7 197.11,499.8 196.7,501.9"/><polyline points="247.85,378 247.07,380.1 246.29,382.2 245.51,384.3 244.73,386.4 243.96,388.5 243.18,390.6 242.41,392.7 241.64,394.8 240.88,396.9 240.11,399 239.35,401.1 238.59,403.2 237.83,405.3 237.08,407.4 236.32,409.5 235.58,411.6 234.83,413.7 234.09,415.8 233.35,417.9 232.61,420 231.88,422.1 231.15,424.2 230.42,426.3 229.7,428.4 228.98,430.5 228.26,432.6 227.55,434.7 226.84,436.8 226.13,438.9 225.43,441 224.74,443.1 224.04,445.2 223.35,447.3 222.67,449.4 221.99,451.5 221.32,453.6 220.64,455.7 219.98,457.8 219.32,459.9 218.66,462 218.01,464.1 217.36,466.2 216.72,468.3 216.08,470.4 215.45,472.5 214.82,474.6 214.2,476.7 213.58,478.8 212.97,480.9 212.36,483 211.76,485.1 211.17,487.2 210.58,489.3 209.99,491.4 209.41,493.5 208.84,495.6 208.28,497.7 207.71,499.8 207.16,501.9"/><polyline points="251.31,378 250.52,380.1 249.74,382.2 248.95,384.3 248.16,386.4 247.38,388.5 246.6,390.6 245.82,392.7 245.04,394.8 244.26,396.9 243.49,399 242.72,401.1 241.95,403.2 241.18,405.3 240.41,407.4 239.65,409.5 238.89,411.6 238.13,413.7 237.37,415.8 236.62,417.9 235.87,420 235.12,422.1 234.38,424.2 233.64,426.3 232.9,428.4 232.17,430.5 231.43,432.6 230.71,434.7 229.98,436.8 229.26,438.9 228.54,441 227.83,443.1 227.12,445.2 226.41,447.3 225.71,449.4 225.01,451.5 224.32,453.6 223.63,455.7 222.94,457.8 222.26,459.9 221.58,462 220.91,464.1 220.24,466.2 219.58,468.3 218.92,470.4 218.26,472.5 217.61,474.6 216.97,476.7 216.33,478.8 215.7,480.9 215.07,483 214.44,485.1 213.82,487.2 213.21,489.3 212.6,491.4 212,493.5 211.4,495.6 210.81,497.7 210.22,499.8 209.64,501.9"/></g>
</g>
<!-- insulation -->
<path d="M201.5,292 Q264,289 327.8,290.5 L327.8,381.5 L201.5,381.5 Z" fill="url(#insg)"/>
<!-- matrix -->
<path d="M211,199.5 L313.6,198 L313.6,291 L211,291 Z" fill="url(#matg)"/>
<!-- wires -->
<clipPath id="wc1"><path d="M220.5,52 Q230.35,48 240.2,52 L240.2,199 L220.5,199 Z"/></clipPath><g clip-path="url(#wc1)"><rect x="220.5" y="47" width="19.7" height="152" fill="url(#wireg)"/><line x1="217.28" y1="46" x2="197" y2="202" stroke="#3a3a3a" stroke-width="1.8" opacity=".78"/><line x1="219.68" y1="46" x2="199.4" y2="202" stroke="#fafafa" stroke-width="1.2" opacity=".55"/><line x1="221.98" y1="46" x2="201.7" y2="202" stroke="#3a3a3a" stroke-width="1.8" opacity=".78"/><line x1="224.38" y1="46" x2="204.1" y2="202" stroke="#fafafa" stroke-width="1.2" opacity=".55"/><line x1="226.68" y1="46" x2="206.4" y2="202" stroke="#3a3a3a" stroke-width="1.8" opacity=".78"/><line x1="229.08" y1="46" x2="208.8" y2="202" stroke="#fafafa" stroke-width="1.2" opacity=".55"/><line x1="231.38" y1="46" x2="211.1" y2="202" stroke="#3a3a3a" stroke-width="1.8" opacity=".78"/><line x1="233.78" y1="46" x2="213.5" y2="202" stroke="#fafafa" stroke-width="1.2" opacity=".55"/><line x1="236.08" y1="46" x2="215.8" y2="202" stroke="#3a3a3a" stroke-width="1.8" opacity=".78"/><line x1="238.48" y1="46" x2="218.2" y2="202" stroke="#fafafa" stroke-width="1.2" opacity=".55"/><line x1="240.78" y1="46" x2="220.5" y2="202" stroke="#3a3a3a" stroke-width="1.8" opacity=".78"/><line x1="243.18" y1="46" x2="222.9" y2="202" stroke="#fafafa" stroke-width="1.2" opacity=".55"/><line x1="245.48" y1="46" x2="225.2" y2="202" stroke="#3a3a3a" stroke-width="1.8" opacity=".78"/><line x1="247.88" y1="46" x2="227.6" y2="202" stroke="#fafafa" stroke-width="1.2" opacity=".55"/><line x1="250.18" y1="46" x2="229.9" y2="202" stroke="#3a3a3a" stroke-width="1.8" opacity=".78"/><line x1="252.58" y1="46" x2="232.3" y2="202" stroke="#fafafa" stroke-width="1.2" opacity=".55"/><line x1="254.88" y1="46" x2="234.6" y2="202" stroke="#3a3a3a" stroke-width="1.8" opacity=".78"/><line x1="257.28" y1="46" x2="237" y2="202" stroke="#fafafa" stroke-width="1.2" opacity=".55"/><line x1="259.58" y1="46" x2="239.3" y2="202" stroke="#3a3a3a" stroke-width="1.8" opacity=".78"/><line x1="261.98" y1="46" x2="241.7" y2="202" stroke="#fafafa" stroke-width="1.2" opacity=".55"/><line x1="264.28" y1="46" x2="244" y2="202" stroke="#3a3a3a" stroke-width="1.8" opacity=".78"/><line x1="266.68" y1="46" x2="246.4" y2="202" stroke="#fafafa" stroke-width="1.2" opacity=".55"/><line x1="268.98" y1="46" x2="248.7" y2="202" stroke="#3a3a3a" stroke-width="1.8" opacity=".78"/><line x1="271.38" y1="46" x2="251.1" y2="202" stroke="#fafafa" stroke-width="1.2" opacity=".55"/><line x1="273.68" y1="46" x2="253.4" y2="202" stroke="#3a3a3a" stroke-width="1.8" opacity=".78"/><line x1="276.08" y1="46" x2="255.8" y2="202" stroke="#fafafa" stroke-width="1.2" opacity=".55"/><line x1="278.38" y1="46" x2="258.1" y2="202" stroke="#3a3a3a" stroke-width="1.8" opacity=".78"/><line x1="280.78" y1="46" x2="260.5" y2="202" stroke="#fafafa" stroke-width="1.2" opacity=".55"/><rect x="220.5" y="47" width="19.7" height="152" fill="url(#wireshade)"/></g>
<clipPath id="wc2"><path d="M287.2,50 Q296.8,46 306.4,50 L306.4,199 L287.2,199 Z"/></clipPath><g clip-path="url(#wc2)"><rect x="287.2" y="45" width="19.2" height="154" fill="url(#wireg)"/><line x1="284.24" y1="44" x2="263.7" y2="202" stroke="#3a3a3a" stroke-width="1.8" opacity=".78"/><line x1="286.64" y1="44" x2="266.1" y2="202" stroke="#fafafa" stroke-width="1.2" opacity=".55"/><line x1="288.94" y1="44" x2="268.4" y2="202" stroke="#3a3a3a" stroke-width="1.8" opacity=".78"/><line x1="291.34" y1="44" x2="270.8" y2="202" stroke="#fafafa" stroke-width="1.2" opacity=".55"/><line x1="293.64" y1="44" x2="273.1" y2="202" stroke="#3a3a3a" stroke-width="1.8" opacity=".78"/><line x1="296.04" y1="44" x2="275.5" y2="202" stroke="#fafafa" stroke-width="1.2" opacity=".55"/><line x1="298.34" y1="44" x2="277.8" y2="202" stroke="#3a3a3a" stroke-width="1.8" opacity=".78"/><line x1="300.74" y1="44" x2="280.2" y2="202" stroke="#fafafa" stroke-width="1.2" opacity=".55"/><line x1="303.04" y1="44" x2="282.5" y2="202" stroke="#3a3a3a" stroke-width="1.8" opacity=".78"/><line x1="305.44" y1="44" x2="284.9" y2="202" stroke="#fafafa" stroke-width="1.2" opacity=".55"/><line x1="307.74" y1="44" x2="287.2" y2="202" stroke="#3a3a3a" stroke-width="1.8" opacity=".78"/><line x1="310.14" y1="44" x2="289.6" y2="202" stroke="#fafafa" stroke-width="1.2" opacity=".55"/><line x1="312.44" y1="44" x2="291.9" y2="202" stroke="#3a3a3a" stroke-width="1.8" opacity=".78"/><line x1="314.84" y1="44" x2="294.3" y2="202" stroke="#fafafa" stroke-width="1.2" opacity=".55"/><line x1="317.14" y1="44" x2="296.6" y2="202" stroke="#3a3a3a" stroke-width="1.8" opacity=".78"/><line x1="319.54" y1="44" x2="299" y2="202" stroke="#fafafa" stroke-width="1.2" opacity=".55"/><line x1="321.84" y1="44" x2="301.3" y2="202" stroke="#3a3a3a" stroke-width="1.8" opacity=".78"/><line x1="324.24" y1="44" x2="303.7" y2="202" stroke="#fafafa" stroke-width="1.2" opacity=".55"/><line x1="326.54" y1="44" x2="306" y2="202" stroke="#3a3a3a" stroke-width="1.8" opacity=".78"/><line x1="328.94" y1="44" x2="308.4" y2="202" stroke="#fafafa" stroke-width="1.2" opacity=".55"/><line x1="331.24" y1="44" x2="310.7" y2="202" stroke="#3a3a3a" stroke-width="1.8" opacity=".78"/><line x1="333.64" y1="44" x2="313.1" y2="202" stroke="#fafafa" stroke-width="1.2" opacity=".55"/><line x1="335.94" y1="44" x2="315.4" y2="202" stroke="#3a3a3a" stroke-width="1.8" opacity=".78"/><line x1="338.34" y1="44" x2="317.8" y2="202" stroke="#fafafa" stroke-width="1.2" opacity=".55"/><line x1="340.64" y1="44" x2="320.1" y2="202" stroke="#3a3a3a" stroke-width="1.8" opacity=".78"/><line x1="343.04" y1="44" x2="322.5" y2="202" stroke="#fafafa" stroke-width="1.2" opacity=".55"/><line x1="345.34" y1="44" x2="324.8" y2="202" stroke="#3a3a3a" stroke-width="1.8" opacity=".78"/><line x1="347.74" y1="44" x2="327.2" y2="202" stroke="#fafafa" stroke-width="1.2" opacity=".55"/><rect x="287.2" y="45" width="19.2" height="154" fill="url(#wireshade)"/></g>
<!-- window -->
<defs>
<linearGradient id="wallLg" x1="0" y1="0" x2="1" y2="0"><stop offset="0" stop-color="#a6a6a6"/><stop offset=".6" stop-color="#b0b0b0"/><stop offset="1" stop-color="#9a9a9a"/></linearGradient>
<linearGradient id="wallRg" x1="0" y1="0" x2="1" y2="0"><stop offset="0" stop-color="#8e8e8e"/><stop offset=".6" stop-color="#888"/><stop offset="1" stop-color="#a4a4a4"/></linearGradient>
<linearGradient id="wallTop" x1="0" y1="0" x2="0" y2="1"><stop offset="0" stop-color="#000" stop-opacity=".45"/><stop offset="1" stop-color="#000" stop-opacity="0"/></linearGradient>
<linearGradient id="wallBot" x1="0" y1="0" x2="0" y2="1"><stop offset="0" stop-color="#000" stop-opacity="0"/><stop offset="1" stop-color="#000" stop-opacity=".35"/></linearGradient>
<linearGradient id="chL2" x1="0" y1="0" x2="1" y2="0"><stop offset="0" stop-color="#1a1a1a"/><stop offset=".15" stop-color="#262626"/><stop offset=".55" stop-color="#555"/><stop offset=".8" stop-color="#5e5a58"/><stop offset="1" stop-color="#575757"/></linearGradient>
<linearGradient id="chR2" x1="0" y1="0" x2="1" y2="0"><stop offset="0" stop-color="#141414"/><stop offset=".1" stop-color="#2a2a2a"/><stop offset=".35" stop-color="#575050"/><stop offset=".65" stop-color="#6c6866"/><stop offset="1" stop-color="#777"/></linearGradient>
<clipPath id="recclip"><rect x="189.5" y="675.5" width="149" height="381" rx="10"/></clipPath>
</defs>
<g clip-path="url(#recclip)">
<rect x="189.5" y="675" width="12" height="382" fill="url(#wallLg)"/>
<rect x="327.5" y="675" width="11" height="382" fill="url(#wallRg)"/>
<rect x="189.5" y="675" width="149" height="14" fill="url(#wallTop)"/>
<rect x="189.5" y="1040" width="149" height="17" fill="url(#wallBot)"/>
</g>
<rect x="201.2" y="676.2" width="126.7" height="380.3" rx="8" fill="#2f302e"/>
<rect x="211" y="677" width="1.2" height="379" fill="#4a4a4a"/>
<rect x="212.2" y="677" width="16.8" height="379" fill="url(#chL2)"/>
<rect x="212.2" y="677" width="1.6" height="379" fill="#121212"/>
<rect x="299" y="677" width="16" height="379" fill="url(#chR2)"/>
<rect x="315" y="677" width="1.6" height="379" fill="#131313"/>
<rect x="316.6" y="677" width="11" height="379" fill="#2e2e2e"/>
<rect x="201.2" y="676.2" width="126.7" height="10" fill="url(#wallTop)"/>
<defs><pattern id="hx0" patternUnits="userSpaceOnUse" width="15.9" height="9.18" x="229" y="677"><rect width="15.9" height="9.18" fill="#f6ad7e"/><polygon points="4.6,0 2.3,3.98 -2.3,3.98 -4.6,0 -2.3,-3.98 2.3,-3.98" fill="#ec5220"/><polygon points="12.55,4.59 10.25,8.57 5.65,8.57 3.35,4.59 5.65,0.61 10.25,0.61" fill="#ec5220"/><polygon points="20.5,0 18.2,3.98 13.6,3.98 11.3,0 13.6,-3.98 18.2,-3.98" fill="#ec5220"/><polygon points="4.6,9.18 2.3,13.16 -2.3,13.16 -4.6,9.18 -2.3,5.2 2.3,5.2" fill="#ec5220"/><polygon points="20.5,9.18 18.2,13.16 13.6,13.16 11.3,9.18 13.6,5.2 18.2,5.2" fill="#ec5220"/></pattern><pattern id="hx1" patternUnits="userSpaceOnUse" width="15.9" height="9.18" x="229" y="803"><rect width="15.9" height="9.18" fill="#fbd39c"/><polygon points="4.6,0 2.3,3.98 -2.3,3.98 -4.6,0 -2.3,-3.98 2.3,-3.98" fill="#f8ac42"/><polygon points="12.55,4.59 10.25,8.57 5.65,8.57 3.35,4.59 5.65,0.61 10.25,0.61" fill="#f8ac42"/><polygon points="20.5,0 18.2,3.98 13.6,3.98 11.3,0 13.6,-3.98 18.2,-3.98" fill="#f8ac42"/><polygon points="4.6,9.18 2.3,13.16 -2.3,13.16 -4.6,9.18 -2.3,5.2 2.3,5.2" fill="#f8ac42"/><polygon points="20.5,9.18 18.2,13.16 13.6,13.16 11.3,9.18 13.6,5.2 18.2,5.2" fill="#f8ac42"/></pattern><pattern id="hx2" patternUnits="userSpaceOnUse" width="15.9" height="9.18" x="229" y="930"><rect width="15.9" height="9.18" fill="#f6efa8"/><polygon points="4.6,0 2.3,3.98 -2.3,3.98 -4.6,0 -2.3,-3.98 2.3,-3.98" fill="#f5e51a"/><polygon points="12.55,4.59 10.25,8.57 5.65,8.57 3.35,4.59 5.65,0.61 10.25,0.61" fill="#f5e51a"/><polygon points="20.5,0 18.2,3.98 13.6,3.98 11.3,0 13.6,-3.98 18.2,-3.98" fill="#f5e51a"/><polygon points="4.6,9.18 2.3,13.16 -2.3,13.16 -4.6,9.18 -2.3,5.2 2.3,5.2" fill="#f5e51a"/><polygon points="20.5,9.18 18.2,13.16 13.6,13.16 11.3,9.18 13.6,5.2 18.2,5.2" fill="#f5e51a"/></pattern><clipPath id="stripclip"><rect x="229" y="677" width="70" height="379"/></clipPath><linearGradient id="stripTop" x1="0" y1="0" x2="0" y2="1"><stop offset="0" stop-color="#200800" stop-opacity=".6"/><stop offset="1" stop-color="#200800" stop-opacity="0"/></linearGradient><linearGradient id="stripBot" x1="0" y1="0" x2="0" y2="1"><stop offset="0" stop-color="#000" stop-opacity="0"/><stop offset="1" stop-color="#000" stop-opacity=".35"/></linearGradient></defs><g clip-path="url(#stripclip)"><rect x="229" y="677" width="70" height="126" fill="url(#hx0)"/><rect x="229" y="803" width="70" height="127" fill="url(#hx1)"/><rect x="229" y="930" width="70" height="126" fill="url(#hx2)"/><polygon points="273.45,681.59 271.1,685.66 266.4,685.66 264.05,681.59 266.4,677.52 271.1,677.52" fill="#bcc7d3"/><polygon points="289.35,690.77 287,694.84 282.3,694.84 279.95,690.77 282.3,686.7 287,686.7" fill="#bcc7d3"/><polygon points="241.65,727.49 239.3,731.56 234.6,731.56 232.25,727.49 234.6,723.42 239.3,723.42" fill="#bcc7d3"/><polygon points="265.5,722.9 263.15,726.97 258.45,726.97 256.1,722.9 258.45,718.83 263.15,718.83" fill="#bcc7d3"/><polygon points="249.6,741.26 247.25,745.33 242.55,745.33 240.2,741.26 242.55,737.19 247.25,737.19" fill="#bcc7d3"/><polygon points="241.65,764.21 239.3,768.28 234.6,768.28 232.25,764.21 234.6,760.14 239.3,760.14" fill="#bcc7d3"/><polygon points="257.55,764.21 255.2,768.28 250.5,768.28 248.15,764.21 250.5,760.14 255.2,760.14" fill="#bcc7d3"/><polygon points="281.4,768.8 279.05,772.87 274.35,772.87 272,768.8 274.35,764.73 279.05,764.73" fill="#bcc7d3"/><polygon points="265.5,787.16 263.15,791.23 258.45,791.23 256.1,787.16 258.45,783.09 263.15,783.09" fill="#bcc7d3"/><polygon points="257.55,791.75 255.2,795.82 250.5,795.82 248.15,791.75 250.5,787.68 255.2,787.68" fill="#bcc7d3"/><polygon points="281.4,787.16 279.05,791.23 274.35,791.23 272,787.16 274.35,783.09 279.05,783.09" fill="#bcc7d3"/><polygon points="273.45,791.75 271.1,795.82 266.4,795.82 264.05,791.75 266.4,787.68 271.1,787.68" fill="#bcc7d3"/><polygon points="249.6,796.34 247.25,800.41 242.55,800.41 240.2,796.34 242.55,792.27 247.25,792.27" fill="#bcc7d3"/><polygon points="281.4,812.18 279.05,816.25 274.35,816.25 272,812.18 274.35,808.11 279.05,808.11" fill="#bcc7d3"/><polygon points="289.35,835.13 287,839.2 282.3,839.2 279.95,835.13 282.3,831.06 287,831.06" fill="#bcc7d3"/><polygon points="241.65,844.31 239.3,848.38 234.6,848.38 232.25,844.31 234.6,840.24 239.3,840.24" fill="#bcc7d3"/><polygon points="257.55,844.31 255.2,848.38 250.5,848.38 248.15,844.31 250.5,840.24 255.2,840.24" fill="#bcc7d3"/><polygon points="249.6,848.9 247.25,852.97 242.55,852.97 240.2,848.9 242.55,844.83 247.25,844.83" fill="#bcc7d3"/><polygon points="281.4,858.08 279.05,862.15 274.35,862.15 272,858.08 274.35,854.01 279.05,854.01" fill="#bcc7d3"/><polygon points="241.65,890.21 239.3,894.28 234.6,894.28 232.25,890.21 234.6,886.14 239.3,886.14" fill="#bcc7d3"/><polygon points="249.6,903.98 247.25,908.05 242.55,908.05 240.2,903.98 242.55,899.91 247.25,899.91" fill="#bcc7d3"/><polygon points="265.5,903.98 263.15,908.05 258.45,908.05 256.1,903.98 258.45,899.91 263.15,899.91" fill="#bcc7d3"/><polygon points="281.4,913.16 279.05,917.23 274.35,917.23 272,913.16 274.35,909.09 279.05,909.09" fill="#bcc7d3"/><polygon points="241.65,971.31 239.3,975.38 234.6,975.38 232.25,971.31 234.6,967.24 239.3,967.24" fill="#bcc7d3"/><polygon points="241.65,1026.39 239.3,1030.46 234.6,1030.46 232.25,1026.39 234.6,1022.32 239.3,1022.32" fill="#bcc7d3"/><polygon points="265.5,1049.34 263.15,1053.41 258.45,1053.41 256.1,1049.34 258.45,1045.27 263.15,1045.27" fill="#bcc7d3"/><polygon points="257.55,807.59 255.2,811.66 250.5,811.66 248.15,807.59 250.5,803.52 255.2,803.52" fill="#20242f"/><polygon points="241.65,853.49 239.3,857.56 234.6,857.56 232.25,853.49 234.6,849.42 239.3,849.42" fill="#20242f"/><polygon points="257.55,853.49 255.2,857.56 250.5,857.56 248.15,853.49 250.5,849.42 255.2,849.42" fill="#20242f"/><polygon points="289.35,890.21 287,894.28 282.3,894.28 279.95,890.21 282.3,886.14 287,886.14" fill="#20242f"/><polygon points="265.5,913.16 263.15,917.23 258.45,917.23 256.1,913.16 258.45,909.09 263.15,909.09" fill="#20242f"/><polygon points="273.45,917.75 271.1,921.82 266.4,921.82 264.05,917.75 266.4,913.68 271.1,913.68" fill="#20242f"/><polygon points="289.35,871.85 287,875.92 282.3,875.92 279.95,871.85 282.3,867.78 287,867.78" fill="#20242f"/><polygon points="297.3,867.26 294.95,871.33 290.25,871.33 287.9,867.26 290.25,863.19 294.95,863.19" fill="#20242f"/><polygon points="257.55,934.59 255.2,938.66 250.5,938.66 248.15,934.59 250.5,930.52 255.2,930.52" fill="#20242f"/><polygon points="281.4,1012.62 279.05,1016.69 274.35,1016.69 272,1012.62 274.35,1008.55 279.05,1008.55" fill="#20242f"/><polygon points="273.45,1017.21 271.1,1021.28 266.4,1021.28 264.05,1017.21 266.4,1013.14 271.1,1013.14" fill="#20242f"/><polygon points="289.35,1026.39 287,1030.46 282.3,1030.46 279.95,1026.39 282.3,1022.32 287,1022.32" fill="#20242f"/><polygon points="289.35,1035.57 287,1039.64 282.3,1039.64 279.95,1035.57 282.3,1031.5 287,1031.5" fill="#20242f"/><polygon points="249.6,1040.16 247.25,1044.23 242.55,1044.23 240.2,1040.16 242.55,1036.09 247.25,1036.09" fill="#20242f"/><polygon points="289.35,998.85 287,1002.92 282.3,1002.92 279.95,998.85 282.3,994.78 287,994.78" fill="#20242f"/><polygon points="297.3,985.08 294.95,989.15 290.25,989.15 287.9,985.08 290.25,981.01 294.95,981.01" fill="#20242f"/><polygon points="281.4,985.08 279.05,989.15 274.35,989.15 272,985.08 274.35,981.01 279.05,981.01" fill="#20242f"/><polygon points="232.56,701.33 230.56,704.79 226.56,704.79 224.56,701.33 226.56,697.86 230.56,697.86" fill="#1d2330"/><polygon points="237.43,700 235.43,703.46 231.43,703.46 229.43,700 231.43,696.54 235.43,696.54" fill="#1d2330"/><polygon points="240.53,703.98 238.53,707.45 234.53,707.45 232.53,703.98 234.53,700.52 238.53,700.52" fill="#1d2330"/><polygon points="243.9,700.16 241.9,703.63 237.9,703.63 235.9,700.16 237.9,696.7 241.9,696.7" fill="#1d2330"/><polygon points="248.94,700.31 246.94,703.78 242.94,703.78 240.94,700.31 242.94,696.85 246.94,696.85" fill="#1d2330"/><polygon points="251.02,695.71 249.02,699.17 245.02,699.17 243.02,695.71 245.02,692.25 249.02,692.25" fill="#1d2330"/><polygon points="256.07,695.86 254.07,699.32 250.07,699.32 248.07,695.86 250.07,692.4 254.07,692.4" fill="#1d2330"/><polygon points="259.56,692.22 257.56,695.68 253.56,695.68 251.56,692.22 253.56,688.75 257.56,688.75" fill="#1d2330"/><polygon points="262.07,696.6 260.07,700.06 256.07,700.06 254.07,696.6 256.07,693.13 260.07,693.13" fill="#1d2330"/><polygon points="265.68,695.55 263.68,699.01 259.68,699.01 257.68,695.55 259.68,692.08 263.68,692.08" fill="#1d2330"/><polygon points="270.73,695.7 268.73,699.16 264.73,699.16 262.73,695.7 264.73,692.23 268.73,692.23" fill="#1d2330"/><polygon points="272.81,691.1 270.81,694.56 266.81,694.56 264.81,691.1 266.81,687.63 270.81,687.63" fill="#1d2330"/><polygon points="277.75,693.15 275.75,696.61 271.75,696.61 269.75,693.15 271.75,689.68 275.75,689.68" fill="#1d2330"/><polygon points="279.35,697.93 277.35,701.4 273.35,701.4 271.35,697.93 273.35,694.47 277.35,694.47" fill="#1d2330"/><polygon points="284.07,697.88 282.07,701.35 278.07,701.35 276.07,697.88 278.07,694.42 282.07,694.42" fill="#1d2330"/><polygon points="287.17,701.87 285.17,705.33 281.17,705.33 279.17,701.87 281.17,698.4 285.17,698.4" fill="#1d2330"/><polygon points="292.04,700.54 290.04,704 286.04,704 284.04,700.54 286.04,697.07 290.04,697.07" fill="#1d2330"/><polygon points="294.65,698.96 292.65,702.43 288.65,702.43 286.65,698.96 288.65,695.5 292.65,695.5" fill="#1d2330"/><polygon points="299.67,699.41 297.67,702.87 293.67,702.87 291.67,699.41 293.67,695.94 297.67,695.94" fill="#1d2330"/><polygon points="302.02,694.94 300.02,698.4 296.02,698.4 294.02,694.94 296.02,691.48 300.02,691.48" fill="#1d2330"/><polygon points="264.6,697.11 262.6,700.57 258.6,700.57 256.6,697.11 258.6,693.64 262.6,693.64" fill="#1d2330"/><polygon points="267.72,701.08 265.72,704.54 261.72,704.54 259.72,701.08 261.72,697.62 265.72,697.62" fill="#1d2330"/><polygon points="265.25,705.48 263.25,708.95 259.25,708.95 257.25,705.48 259.25,702.02 263.25,702.02" fill="#1d2330"/><polygon points="268.36,709.46 266.36,712.92 262.36,712.92 260.36,709.46 262.36,705.99 266.36,705.99" fill="#1d2330"/><polygon points="268.13,713.85 266.13,717.32 262.13,717.32 260.13,713.85 262.13,710.39 266.13,710.39" fill="#1d2330"/><polygon points="265.04,717.84 263.04,721.31 259.04,721.31 257.04,717.84 259.04,714.38 263.04,714.38" fill="#1d2330"/><polygon points="267.53,722.23 265.53,725.69 261.53,725.69 259.53,722.23 261.53,718.77 265.53,718.77" fill="#1d2330"/><polygon points="290.73,736.19 288.73,739.66 284.73,739.66 282.73,736.19 284.73,732.73 288.73,732.73" fill="#1d2330"/><polygon points="292.84,731.61 290.84,735.07 286.84,735.07 284.84,731.61 286.84,728.14 290.84,728.14" fill="#1d2330"/><polygon points="297.89,731.79 295.89,735.25 291.89,735.25 289.89,731.79 291.89,728.33 295.89,728.33" fill="#1d2330"/><polygon points="300,727.2 298,730.67 294,730.67 292,727.2 294,723.74 298,723.74" fill="#1d2330"/><polygon points="233.93,751.05 231.93,754.51 227.93,754.51 225.93,751.05 227.93,747.58 231.93,747.58" fill="#1d2330"/><polygon points="235.21,746.16 233.21,749.63 229.21,749.63 227.21,746.16 229.21,742.7 233.21,742.7" fill="#1d2330"/><polygon points="240.21,745.47 238.21,748.93 234.21,748.93 232.21,745.47 234.21,742 238.21,742" fill="#1d2330"/><polygon points="243.49,741.79 241.49,745.25 237.49,745.25 235.49,741.79 237.49,738.33 241.49,738.33" fill="#1d2330"/><polygon points="243.15,746.83 241.15,750.29 237.15,750.29 235.15,746.83 237.15,743.36 241.15,743.36" fill="#1d2330"/><polygon points="247.66,749.08 245.66,752.55 241.66,752.55 239.66,749.08 241.66,745.62 245.66,745.62" fill="#1d2330"/><polygon points="247.31,754.12 245.31,757.58 241.31,757.58 239.31,754.12 241.31,750.66 245.31,750.66" fill="#1d2330"/><polygon points="251.4,757.23 249.4,760.7 245.4,760.7 243.4,757.23 245.4,753.77 249.4,753.77" fill="#1d2330"/><polygon points="248.6,761.43 246.6,764.9 242.6,764.9 240.6,761.43 242.6,757.97 246.6,757.97" fill="#1d2330"/><polygon points="251.4,765.63 249.4,769.1 245.4,769.1 243.4,765.63 245.4,762.17 249.4,762.17" fill="#1d2330"/><polygon points="248.6,769.83 246.6,773.3 242.6,773.3 240.6,769.83 242.6,766.37 246.6,766.37" fill="#1d2330"/><polygon points="247.89,773.71 245.89,777.17 241.89,777.17 239.89,773.71 241.89,770.25 245.89,770.25" fill="#1d2330"/><polygon points="242.88,774.37 240.88,777.83 236.88,777.83 234.88,774.37 236.88,770.9 240.88,770.9" fill="#1d2330"/><polygon points="241.71,779.27 239.71,782.73 235.71,782.73 233.71,779.27 235.71,775.8 239.71,775.8" fill="#1d2330"/><polygon points="236.76,780.26 234.76,783.72 230.76,783.72 228.76,780.26 230.76,776.79 234.76,776.79" fill="#1d2330"/><polygon points="235.77,785.21 233.77,788.67 229.77,788.67 227.77,785.21 229.77,781.74 233.77,781.74" fill="#1d2330"/><polygon points="233.53,779.29 231.53,782.76 227.53,782.76 225.53,779.29 227.53,775.83 231.53,775.83" fill="#1d2330"/><polygon points="236.35,775.11 234.35,778.57 230.35,778.57 228.35,775.11 230.35,771.64 234.35,771.64" fill="#1d2330"/><polygon points="241.3,776.1 239.3,779.56 235.3,779.56 233.3,776.1 235.3,772.63 239.3,772.63" fill="#1d2330"/><polygon points="244.12,771.91 242.12,775.37 238.12,775.37 236.12,771.91 238.12,768.44 242.12,768.44" fill="#1d2330"/><polygon points="249.07,772.9 247.07,776.36 243.07,776.36 241.07,772.9 243.07,769.43 247.07,769.43" fill="#1d2330"/><polygon points="252.91,770.44 250.91,773.91 246.91,773.91 244.91,770.44 246.91,766.98 250.91,766.98" fill="#1d2330"/><polygon points="256.09,774.37 254.09,777.83 250.09,777.83 248.09,774.37 250.09,770.9 254.09,770.9" fill="#1d2330"/><polygon points="260.93,772.95 258.93,776.41 254.93,776.41 252.93,772.95 254.93,769.49 258.93,769.49" fill="#1d2330"/><polygon points="264.11,776.87 262.11,780.34 258.11,780.34 256.11,776.87 258.11,773.41 262.11,773.41" fill="#1d2330"/><polygon points="268.47,774.3 266.47,777.76 262.47,777.76 260.47,774.3 262.47,770.84 266.47,770.84" fill="#1d2330"/><polygon points="272.97,776.59 270.97,780.05 266.97,780.05 264.97,776.59 266.97,773.13 270.97,773.13" fill="#1d2330"/><polygon points="276.81,773.32 274.81,776.78 270.81,776.78 268.81,773.32 270.81,769.85 274.81,769.85" fill="#1d2330"/><polygon points="281.31,775.61 279.31,779.07 275.31,779.07 273.31,775.61 275.31,772.14 279.31,772.14" fill="#1d2330"/><polygon points="284.65,771.83 282.65,775.3 278.65,775.3 276.65,771.83 278.65,768.37 282.65,768.37" fill="#1d2330"/><polygon points="289.59,772.87 287.59,776.34 283.59,776.34 281.59,772.87 283.59,769.41 287.59,769.41" fill="#1d2330"/><polygon points="292.45,768.71 290.45,772.18 286.45,772.18 284.45,768.71 286.45,765.25 290.45,765.25" fill="#1d2330"/><polygon points="297.39,769.75 295.39,773.22 291.39,773.22 289.39,769.75 291.39,766.29 295.39,766.29" fill="#1d2330"/><polygon points="300.25,765.59 298.25,769.06 294.25,769.06 292.25,765.59 294.25,762.13 298.25,762.13" fill="#1d2330"/><polygon points="232.32,827.22 230.32,830.69 226.32,830.69 224.32,827.22 226.32,823.76 230.32,823.76" fill="#1d2330"/><polygon points="237.35,826.82 235.35,830.28 231.35,830.28 229.35,826.82 231.35,823.35 235.35,823.35" fill="#1d2330"/><polygon points="239.66,831.3 237.66,834.77 233.66,834.77 231.66,831.3 233.66,827.84 237.66,827.84" fill="#1d2330"/><polygon points="244.69,830.9 242.69,834.36 238.69,834.36 236.69,830.9 238.69,827.43 242.69,827.43" fill="#1d2330"/><polygon points="247.01,835.38 245.01,838.85 241.01,838.85 239.01,835.38 241.01,831.92 245.01,831.92" fill="#1d2330"/><polygon points="250.6,834.6 248.6,838.06 244.6,838.06 242.6,834.6 244.6,831.13 248.6,831.13" fill="#1d2330"/><polygon points="255.65,834.74 253.65,838.21 249.65,838.21 247.65,834.74 249.65,831.28 253.65,831.28" fill="#1d2330"/><polygon points="257.73,830.14 255.73,833.61 251.73,833.61 249.73,830.14 251.73,826.68 255.73,826.68" fill="#1d2330"/><polygon points="261.45,828.04 259.45,831.5 255.45,831.5 253.45,828.04 255.45,824.58 259.45,824.58" fill="#1d2330"/><polygon points="266.48,828.45 264.48,831.91 260.48,831.91 258.48,828.45 260.48,824.98 264.48,824.98" fill="#1d2330"/><polygon points="270.17,825.7 268.17,829.17 264.17,829.17 262.17,825.7 264.17,822.24 268.17,822.24" fill="#1d2330"/><polygon points="272.24,830.3 270.24,833.77 266.24,833.77 264.24,830.3 266.24,826.84 270.24,826.84" fill="#1d2330"/><polygon points="277.36,830.27 275.36,833.73 271.36,833.73 269.36,830.27 271.36,826.8 275.36,826.8" fill="#1d2330"/><polygon points="279.04,835.03 277.04,838.49 273.04,838.49 271.04,835.03 273.04,831.56 277.04,831.56" fill="#1d2330"/><polygon points="289.59,822.27 287.59,825.74 283.59,825.74 281.59,822.27 283.59,818.81 287.59,818.81" fill="#1d2330"/><polygon points="292.23,817.97 290.23,821.43 286.23,821.43 284.23,817.97 286.23,814.5 290.23,814.5" fill="#1d2330"/><polygon points="297.21,818.75 295.21,822.22 291.21,822.22 289.21,818.75 291.21,815.29 295.21,815.29" fill="#1d2330"/><polygon points="299.85,814.45 297.85,817.91 293.85,817.91 291.85,814.45 293.85,810.98 297.85,810.98" fill="#1d2330"/><polygon points="232.33,867.23 230.33,870.69 226.33,870.69 224.33,867.23 226.33,863.76 230.33,863.76" fill="#1d2330"/><polygon points="237.36,866.78 235.36,870.25 231.36,870.25 229.36,866.78 231.36,863.32 235.36,863.32" fill="#1d2330"/><polygon points="239.7,871.25 237.7,874.72 233.7,874.72 231.7,871.25 233.7,867.79 237.7,867.79" fill="#1d2330"/><polygon points="244.78,870.84 242.78,874.3 238.78,874.3 236.78,870.84 238.78,867.37 242.78,867.37" fill="#1d2330"/><polygon points="246.94,875.4 244.94,878.86 240.94,878.86 238.94,875.4 240.94,871.93 244.94,871.93" fill="#1d2330"/><polygon points="251.98,875.16 249.98,878.62 245.98,878.62 243.98,875.16 245.98,871.69 249.98,871.69" fill="#1d2330"/><polygon points="255.53,877.2 253.53,880.66 249.53,880.66 247.53,877.2 249.53,873.73 253.53,873.73" fill="#1d2330"/><polygon points="258.03,881.58 256.03,885.05 252.03,885.05 250.03,881.58 252.03,878.12 256.03,878.12" fill="#1d2330"/><polygon points="263.04,880.96 261.04,884.42 257.04,884.42 255.04,880.96 257.04,877.49 261.04,877.49" fill="#1d2330"/><polygon points="266.84,882.86 264.84,886.33 260.84,886.33 258.84,882.86 260.84,879.4 264.84,879.4" fill="#1d2330"/><polygon points="269.19,887.33 267.19,890.8 263.19,890.8 261.19,887.33 263.19,883.87 267.19,883.87" fill="#1d2330"/><polygon points="274.21,886.89 272.21,890.35 268.21,890.35 266.21,886.89 268.21,883.42 272.21,883.42" fill="#1d2330"/><polygon points="278.12,889.12 276.12,892.58 272.12,892.58 270.12,889.12 272.12,885.65 276.12,885.65" fill="#1d2330"/><polygon points="279.44,893.99 277.44,897.46 273.44,897.46 271.44,893.99 273.44,890.53 277.44,890.53" fill="#1d2330"/><polygon points="284.44,894.65 282.44,898.11 278.44,898.11 276.44,894.65 278.44,891.19 282.44,891.19" fill="#1d2330"/><polygon points="287.17,898.5 285.17,901.96 281.17,901.96 279.17,898.5 281.17,895.04 285.17,895.04" fill="#1d2330"/><polygon points="286.25,903.46 284.25,906.93 280.25,906.93 278.25,903.46 280.25,900 284.25,900" fill="#1d2330"/><polygon points="291.12,905.14 289.12,908.61 285.12,908.61 283.12,905.14 285.12,901.68 289.12,901.68" fill="#1d2330"/><polygon points="292.11,910.09 290.11,913.56 286.11,913.56 284.11,910.09 286.11,906.63 290.11,906.63" fill="#1d2330"/><polygon points="297.21,910.46 295.21,913.92 291.21,913.92 289.21,910.46 291.21,907 295.21,907" fill="#1d2330"/><polygon points="299.16,915.12 297.16,918.58 293.16,918.58 291.16,915.12 293.16,911.66 297.16,911.66" fill="#1d2330"/><polygon points="233.5,905.31 231.5,908.77 227.5,908.77 225.5,905.31 227.5,901.84 231.5,901.84" fill="#1d2330"/><polygon points="236.42,901.19 234.42,904.65 230.42,904.65 228.42,901.19 230.42,897.72 234.42,897.72" fill="#1d2330"/><polygon points="241.34,902.29 239.34,905.76 235.34,905.76 233.34,902.29 235.34,898.83 239.34,898.83" fill="#1d2330"/><polygon points="244.26,898.17 242.26,901.63 238.26,901.63 236.26,898.17 238.26,894.71 242.26,894.71" fill="#1d2330"/><polygon points="232.34,959.23 230.34,962.7 226.34,962.7 224.34,959.23 226.34,955.77 230.34,955.77" fill="#1d2330"/><polygon points="237.36,958.76 235.36,962.22 231.36,962.22 229.36,958.76 231.36,955.29 235.36,955.29" fill="#1d2330"/><polygon points="239.73,963.22 237.73,966.68 233.73,966.68 231.73,963.22 233.73,959.75 237.73,959.75" fill="#1d2330"/><polygon points="244.76,962.74 242.76,966.21 238.76,966.21 236.76,962.74 238.76,959.28 242.76,959.28" fill="#1d2330"/><polygon points="302.14,947.89 300.14,951.36 296.14,951.36 294.14,947.89 296.14,944.43 300.14,944.43" fill="#1d2330"/><polygon points="300.54,952.68 298.54,956.15 294.54,956.15 292.54,952.68 294.54,949.22 298.54,949.22" fill="#1d2330"/><polygon points="295.51,953.05 293.51,956.52 289.51,956.52 287.51,953.05 289.51,949.59 293.51,949.59" fill="#1d2330"/><polygon points="293.63,957.81 291.63,961.27 287.63,961.27 285.63,957.81 287.63,954.34 291.63,954.34" fill="#1d2330"/><polygon points="288.6,957.4 286.6,960.86 282.6,960.86 280.6,957.4 282.6,953.93 286.6,953.93" fill="#1d2330"/><polygon points="286.29,961.89 284.29,965.35 280.29,965.35 278.29,961.89 280.29,958.42 284.29,958.42" fill="#1d2330"/><polygon points="282.49,963.82 280.49,967.28 276.49,967.28 274.49,963.82 276.49,960.35 280.49,960.35" fill="#1d2330"/><polygon points="277.48,963.19 275.48,966.66 271.48,966.66 269.48,963.19 271.48,959.73 275.48,959.73" fill="#1d2330"/><polygon points="280.25,965.38 278.25,968.84 274.25,968.84 272.25,965.38 274.25,961.92 278.25,961.92" fill="#1d2330"/><polygon points="282.33,969.98 280.33,973.45 276.33,973.45 274.33,969.98 276.33,966.52 280.33,966.52" fill="#1d2330"/><polygon points="287.35,970.37 285.35,973.83 281.35,973.83 279.35,970.37 281.35,966.91 285.35,966.91" fill="#1d2330"/><polygon points="232.32,999.22 230.32,1002.69 226.32,1002.69 224.32,999.22 226.32,995.76 230.32,995.76" fill="#1d2330"/><polygon points="237.35,998.82 235.35,1002.28 231.35,1002.28 229.35,998.82 231.35,995.35 235.35,995.35" fill="#1d2330"/><polygon points="239.66,1003.3 237.66,1006.77 233.66,1006.77 231.66,1003.3 233.66,999.84 237.66,999.84" fill="#1d2330"/><polygon points="244.69,1002.9 242.69,1006.36 238.69,1006.36 236.69,1002.9 238.69,999.43 242.69,999.43" fill="#1d2330"/><polygon points="247.01,1007.38 245.01,1010.85 241.01,1010.85 239.01,1007.38 241.01,1003.92 245.01,1003.92" fill="#1d2330"/><polygon points="250.86,1006.55 248.86,1010.01 244.86,1010.01 242.86,1006.55 244.86,1003.08 248.86,1003.08" fill="#1d2330"/><polygon points="255.8,1007.59 253.8,1011.05 249.8,1011.05 247.8,1007.59 249.8,1004.12 253.8,1004.12" fill="#1d2330"/><polygon points="273.6,1031.12 271.6,1034.58 267.6,1034.58 265.6,1031.12 267.6,1027.65 271.6,1027.65" fill="#1d2330"/><polygon points="276.74,1035.07 274.74,1038.53 270.74,1038.53 268.74,1035.07 270.74,1031.61 274.74,1031.61" fill="#1d2330"/><polygon points="274.3,1039.49 272.3,1042.95 268.3,1042.95 266.3,1039.49 268.3,1036.02 272.3,1036.02" fill="#1d2330"/><polygon points="277.27,1042.19 275.27,1045.65 271.27,1045.65 269.27,1042.19 271.27,1038.72 275.27,1038.72" fill="#1d2330"/><polygon points="279.06,1046.9 277.06,1050.37 273.06,1050.37 271.06,1046.9 273.06,1043.44 277.06,1043.44" fill="#1d2330"/><polygon points="282.76,1046.58 280.76,1050.04 276.76,1050.04 274.76,1046.58 276.76,1043.11 280.76,1043.11" fill="#1d2330"/><polygon points="287.73,1047.43 285.73,1050.89 281.73,1050.89 279.73,1047.43 281.73,1043.96 285.73,1043.96" fill="#1d2330"/><polygon points="290.43,1043.16 288.43,1046.63 284.43,1046.63 282.43,1043.16 284.43,1039.7 288.43,1039.7" fill="#1d2330"/><polygon points="295.41,1044.01 293.41,1047.48 289.41,1047.48 287.41,1044.01 289.41,1040.55 293.41,1040.55" fill="#1d2330"/><polygon points="298.07,1048.3 296.07,1051.76 292.07,1051.76 290.07,1048.3 292.07,1044.83 296.07,1044.83" fill="#1d2330"/><polygon points="303.06,1047.49 301.06,1050.95 297.06,1050.95 295.06,1047.49 297.06,1044.02 301.06,1044.02" fill="#1d2330"/><polyline points="229,700 238,703 246,698 254,693 262,697 270,692 279,699 288,702 299,696" fill="none" stroke="#b4603e" stroke-width="3.4" stroke-linejoin="round" stroke-linecap="round"/><polyline points="262,697 263,710 262,724" fill="none" stroke="#b4603e" stroke-width="3.4" stroke-linejoin="round" stroke-linecap="round"/><polyline points="286,735 299,727" fill="none" stroke="#b4603e" stroke-width="3.4" stroke-linejoin="round" stroke-linecap="round"/><polyline points="229,750 238,742 246,756 246,770 238,777 229,786" fill="none" stroke="#b4603e" stroke-width="3.4" stroke-linejoin="round" stroke-linecap="round"/><polyline points="229,778 246,771 262,776 279,774 299,766" fill="none" stroke="#b4603e" stroke-width="3.4" stroke-linejoin="round" stroke-linecap="round"/><polyline points="229,826 238,831 247,836 255,831 264,826 272,831 276,834" fill="none" stroke="#b4603e" stroke-width="3.4" stroke-linejoin="round" stroke-linecap="round"/><polyline points="285,821 298,815" fill="none" stroke="#b4603e" stroke-width="3.4" stroke-linejoin="round" stroke-linecap="round"/><polyline points="229,866 240,872 250,878 262,884 273,890 281,897 284,904 290,910 299,916" fill="none" stroke="#b4603e" stroke-width="3.4" stroke-linejoin="round" stroke-linecap="round"/><polyline points="229,904 242,899" fill="none" stroke="#b4603e" stroke-width="3.4" stroke-linejoin="round" stroke-linecap="round"/><polyline points="229,958 242,965" fill="none" stroke="#b4603e" stroke-width="3.4" stroke-linejoin="round" stroke-linecap="round"/><polyline points="299,949 290,956 281,961 273,965 281,970 284,973" fill="none" stroke="#b4603e" stroke-width="3.4" stroke-linejoin="round" stroke-linecap="round"/><polyline points="229,998 238,1003 247,1008 252,1006" fill="none" stroke="#b4603e" stroke-width="3.4" stroke-linejoin="round" stroke-linecap="round"/><polyline points="271,1031 272,1043 279,1048 288,1044 299,1049" fill="none" stroke="#b4603e" stroke-width="3.4" stroke-linejoin="round" stroke-linecap="round"/><rect x="229" y="801.5" width="70" height="2" fill="#5a3a20"/><rect x="229" y="929" width="70" height="2" fill="#5a4a20"/><rect x="229" y="677" width="70" height="19" fill="url(#stripTop)"/><rect x="229" y="1040" width="70" height="16" fill="url(#stripBot)"/></g>
<!-- leaders -->
<g fill="#000">
<rect x="297" y="108" width="196" height="2"/><circle cx="297.4" cy="109" r="4.3"/>
<rect x="290" y="242" width="203" height="2"/><circle cx="290.5" cy="242.6" r="4.3"/>
<rect x="302" y="351" width="191" height="2"/><circle cx="302" cy="352" r="4.3"/>
<rect x="314" y="441" width="179" height="2"/><circle cx="314.2" cy="442" r="4.3"/>
<rect x="325" y="533" width="168" height="2"/><circle cx="325.5" cy="534" r="4.3"/>
<rect x="350" y="739.8" width="144.5" height="4.4" rx="2" fill="#fff"/><rect x="263" y="741" width="230" height="2"/><circle cx="263.3" cy="741.4" r="17.2"/>
<rect x="350" y="867.8" width="144.5" height="4.4" rx="2" fill="#fff"/><rect x="263" y="869" width="230" height="2"/><circle cx="263.2" cy="869.3" r="17.2"/>
<rect x="350" y="992.8" width="144.5" height="4.4" rx="2" fill="#fff"/><rect x="263" y="994" width="230" height="2"/><circle cx="263.2" cy="994.6" r="17.2"/>
</g>
<g fill="#fff" stroke="#fff" stroke-width="0.6" font-family="Liberation Sans, sans-serif" font-size="30.5" text-anchor="middle">
<text x="263.8" y="753">1</text>
<text x="263.4" y="881">2</text>
<text x="263.4" y="1006.3">3</text>
</g>
</svg>
<div class="t r" id="t0" style="left:535px;top:67.46px;font-size:37.5px;transform:scaleX(1.0580)">Токопроводящие медные жилы</div><div class="t r" id="t1" style="left:536px;top:117.76px;font-size:37.5px;transform:scaleX(1.0535)">сечением 1,0 мм<sup>2</sup></div><div class="t r" id="t2" style="left:536px;top:199.86px;font-size:37.5px;transform:scaleX(1.0500)">Полупроводящая</div><div class="t r" id="t3" style="left:536px;top:250.26px;font-size:37.5px;transform:scaleX(1.0536)">саморегулирующаяся матрица</div><div class="t r" id="t4" style="left:535.4px;top:329.26px;font-size:37.5px;transform:scaleX(1.0435)">Изоляция</div><div class="t r" id="t5" style="left:534px;top:421.86px;font-size:37.5px;transform:scaleX(1.0574)">Оплётка из медных луженых проволок</div><div class="t r" id="t6" style="left:534px;top:513.26px;font-size:37.5px;transform:scaleX(1.0574)">Оболочка из термопластичного эластомера</div><div class="t h" id="t7" style="left:536.8px;top:611.06px;font-size:48px;transform:scaleX(0.9828)">Принцип работы</div><div class="t b" id="t8" style="left:539px;top:698.06px;font-size:37.5px;transform:scaleX(1.0074)">Холодная труба</div><div class="t p" id="t9" style="left:865.4px;top:698.06px;font-size:37.5px;transform:scaleX(1.0521)">— много проводящих путей.</div><div class="t p" id="t10" style="left:539px;top:749.06px;font-size:37.5px;transform:scaleX(1.0375)">Высокое тепловыделение.</div><div class="t b" id="t11" style="left:534px;top:823.26px;font-size:37.5px;transform:scaleX(1.0004)">Теплая труба</div><div class="t p" id="t12" style="left:809.8px;top:823.26px;font-size:37.5px;transform:scaleX(1.0488)">— меньше проводящих путей.</div><div class="t p" id="t13" style="left:534px;top:873.56px;font-size:37.5px;transform:scaleX(1.0361)">Среднее тепловыделение.</div><div class="t b" id="t14" style="left:538px;top:948.16px;font-size:37.5px;transform:scaleX(0.9823)">Горячая труба</div><div class="t p" id="t15" style="left:832.2px;top:948.16px;font-size:37.5px;transform:scaleX(1.0520)">— мало проводящих путей.</div><div class="t p" id="t16" style="left:540px;top:998.36px;font-size:37.5px;transform:scaleX(1.0435)">Низкое тепловыделение.</div>
</body></html>
